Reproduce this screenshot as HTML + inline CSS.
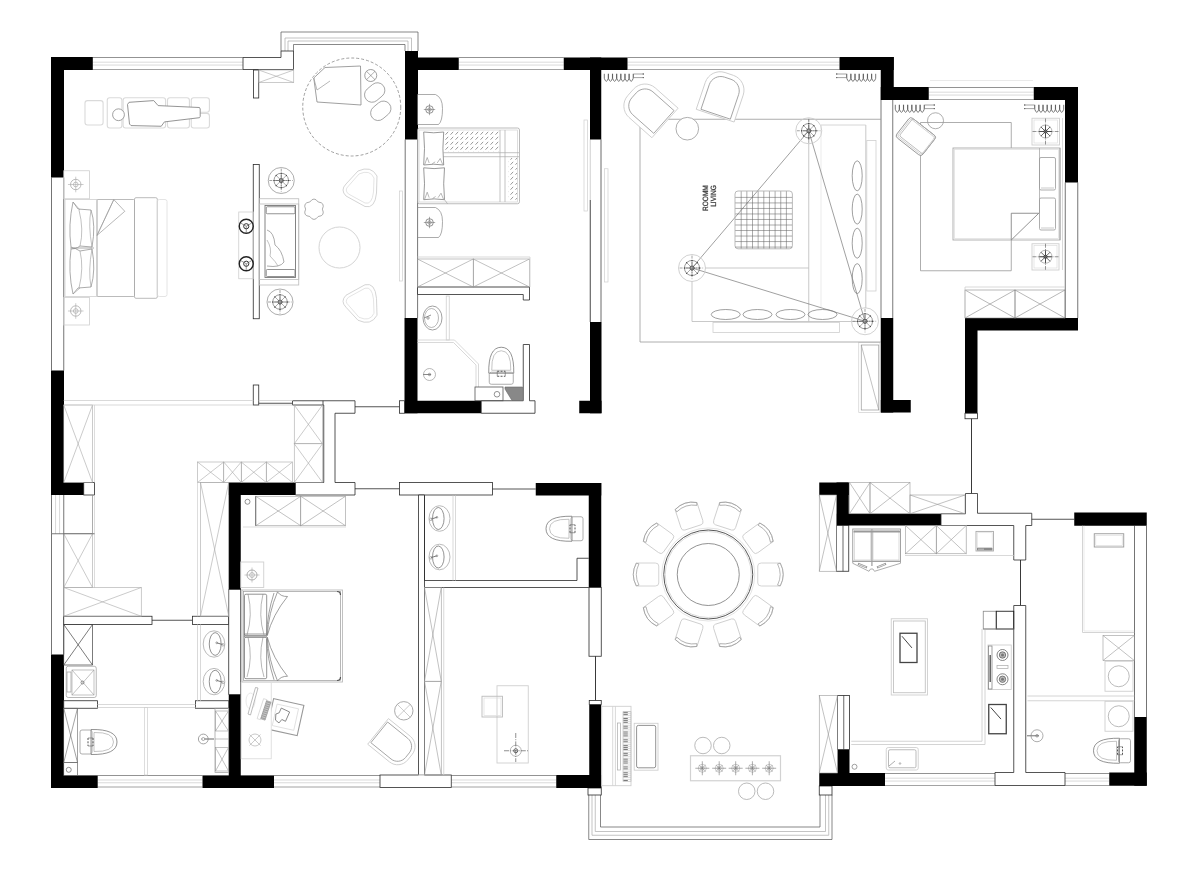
<!DOCTYPE html>
<html><head><meta charset="utf-8"><title>Floor plan</title>
<style>html,body{margin:0;padding:0;background:#fff;font-family:"Liberation Sans",sans-serif}svg{display:block}</style></head>
<body>
<svg width="1200" height="879" viewBox="0 0 1200 879">
<defs><filter id="nf" x="-10%" y="-10%" width="120%" height="120%"><feOffset dx="0" dy="0"/></filter><pattern id="hatch" width="5" height="5" patternUnits="userSpaceOnUse"><path d="M0.5 4.7 L3.2 1.8" stroke="#777" stroke-width="0.75"/></pattern></defs>
<rect width="1200" height="879" fill="#fff"/>
<line x1="92.5" y1="57.5" x2="243" y2="57.5" stroke="#777" stroke-width="0.8"/>
<line x1="92.5" y1="69.5" x2="243" y2="69.5" stroke="#8c8c8c" stroke-width="0.8"/>
<line x1="92.5" y1="62.18" x2="243" y2="62.18" stroke="#cacaca" stroke-width="0.7"/>
<line x1="92.5" y1="65.06" x2="243" y2="65.06" stroke="#cacaca" stroke-width="0.7"/>
<line x1="458.75" y1="57.5" x2="563.75" y2="57.5" stroke="#777" stroke-width="0.8"/>
<line x1="458.75" y1="69.5" x2="563.75" y2="69.5" stroke="#8c8c8c" stroke-width="0.8"/>
<line x1="458.75" y1="62.18" x2="563.75" y2="62.18" stroke="#cacaca" stroke-width="0.7"/>
<line x1="458.75" y1="65.06" x2="563.75" y2="65.06" stroke="#cacaca" stroke-width="0.7"/>
<line x1="627.5" y1="57.5" x2="839.5" y2="57.5" stroke="#777" stroke-width="0.8"/>
<line x1="627.5" y1="69.5" x2="839.5" y2="69.5" stroke="#8c8c8c" stroke-width="0.8"/>
<line x1="627.5" y1="62.18" x2="839.5" y2="62.18" stroke="#cacaca" stroke-width="0.7"/>
<line x1="627.5" y1="65.06" x2="839.5" y2="65.06" stroke="#cacaca" stroke-width="0.7"/>
<line x1="928.75" y1="87.5" x2="1033.75" y2="87.5" stroke="#777" stroke-width="0.8"/>
<line x1="928.75" y1="99.5" x2="1033.75" y2="99.5" stroke="#8c8c8c" stroke-width="0.8"/>
<line x1="928.75" y1="92.18" x2="1033.75" y2="92.18" stroke="#cacaca" stroke-width="0.7"/>
<line x1="928.75" y1="95.06" x2="1033.75" y2="95.06" stroke="#cacaca" stroke-width="0.7"/>
<line x1="930" y1="80.5" x2="1033" y2="80.5" stroke="#e4e4e4" stroke-width="0.8"/>
<line x1="51.5" y1="177.5" x2="51.5" y2="370.5" stroke="#505050" stroke-width="0.8"/>
<line x1="63.75" y1="177.5" x2="63.75" y2="370.5" stroke="#505050" stroke-width="0.8"/>
<line x1="51.5" y1="495" x2="51.5" y2="533.75" stroke="#505050" stroke-width="0.8"/>
<line x1="63.75" y1="495" x2="63.75" y2="533.75" stroke="#505050" stroke-width="0.8"/>
<line x1="55.54" y1="495" x2="55.54" y2="533.75" stroke="#c8c8c8" stroke-width="0.7"/>
<line x1="59.59" y1="495" x2="59.59" y2="533.75" stroke="#c8c8c8" stroke-width="0.7"/>
<line x1="51.5" y1="533.75" x2="51.5" y2="654.5" stroke="#505050" stroke-width="0.8"/>
<line x1="63.75" y1="533.75" x2="63.75" y2="654.5" stroke="#505050" stroke-width="0.8"/>
<line x1="97.5" y1="775.5" x2="202.5" y2="775.5" stroke="#777" stroke-width="0.8"/>
<line x1="97.5" y1="787" x2="202.5" y2="787" stroke="#8c8c8c" stroke-width="0.8"/>
<line x1="97.5" y1="779.99" x2="202.5" y2="779.99" stroke="#cacaca" stroke-width="0.7"/>
<line x1="97.5" y1="782.75" x2="202.5" y2="782.75" stroke="#cacaca" stroke-width="0.7"/>
<line x1="274" y1="775.5" x2="380" y2="775.5" stroke="#777" stroke-width="0.8"/>
<line x1="274" y1="787" x2="380" y2="787" stroke="#8c8c8c" stroke-width="0.8"/>
<line x1="274" y1="779.99" x2="380" y2="779.99" stroke="#cacaca" stroke-width="0.7"/>
<line x1="274" y1="782.75" x2="380" y2="782.75" stroke="#cacaca" stroke-width="0.7"/>
<line x1="451.25" y1="775.5" x2="556.25" y2="775.5" stroke="#777" stroke-width="0.8"/>
<line x1="451.25" y1="787" x2="556.25" y2="787" stroke="#8c8c8c" stroke-width="0.8"/>
<line x1="451.25" y1="779.99" x2="556.25" y2="779.99" stroke="#cacaca" stroke-width="0.7"/>
<line x1="451.25" y1="782.75" x2="556.25" y2="782.75" stroke="#cacaca" stroke-width="0.7"/>
<line x1="885" y1="773.5" x2="995" y2="773.5" stroke="#777" stroke-width="0.8"/>
<line x1="885" y1="785.5" x2="995" y2="785.5" stroke="#8c8c8c" stroke-width="0.8"/>
<line x1="885" y1="778.18" x2="995" y2="778.18" stroke="#cacaca" stroke-width="0.7"/>
<line x1="885" y1="781.06" x2="995" y2="781.06" stroke="#cacaca" stroke-width="0.7"/>
<line x1="1065" y1="773.5" x2="1109.25" y2="773.5" stroke="#777" stroke-width="0.8"/>
<line x1="1065" y1="785.5" x2="1109.25" y2="785.5" stroke="#8c8c8c" stroke-width="0.8"/>
<line x1="1065" y1="778.18" x2="1109.25" y2="778.18" stroke="#cacaca" stroke-width="0.7"/>
<line x1="1065" y1="781.06" x2="1109.25" y2="781.06" stroke="#cacaca" stroke-width="0.7"/>
<line x1="1065.25" y1="182.5" x2="1065.25" y2="318" stroke="#505050" stroke-width="0.8"/>
<line x1="1077.75" y1="182.5" x2="1077.75" y2="318" stroke="#505050" stroke-width="0.8"/>
<line x1="1134.5" y1="525.75" x2="1134.5" y2="717" stroke="#505050" stroke-width="0.8"/>
<line x1="1146.5" y1="525.75" x2="1146.5" y2="717" stroke="#505050" stroke-width="0.8"/>
<line x1="405.2" y1="139.5" x2="405.2" y2="318" stroke="#505050" stroke-width="0.8"/>
<line x1="417.6" y1="139.5" x2="417.6" y2="318" stroke="#505050" stroke-width="0.8"/>
<line x1="601" y1="139.5" x2="601" y2="322" stroke="#444" stroke-width="0.8"/>
<line x1="590.25" y1="139.5" x2="590.25" y2="200" stroke="#bbb" stroke-width="0.7"/>
<line x1="590.25" y1="200" x2="590.25" y2="322" stroke="#333" stroke-width="0.9"/>
<rect x="584" y="120" width="3.5" height="91" fill="none" stroke="#cfcfcf" stroke-width="0.7"/>
<rect x="604.5" y="168.75" width="3.5" height="113.25" fill="none" stroke="#cfcfcf" stroke-width="0.7"/>
<rect x="399.5" y="191" width="3" height="90" fill="none" stroke="#cfcfcf" stroke-width="0.7"/>
<line x1="881" y1="100" x2="881" y2="318" stroke="#555" stroke-width="0.8"/>
<line x1="892.75" y1="100" x2="892.75" y2="318" stroke="#555" stroke-width="0.8"/>
<path d="M281 51 L281 32 L418 32 L418 51" fill="none" stroke="#555" stroke-width="0.7"/>
<path d="M285 51 L285 38 L411.5 38 L411.5 51" fill="none" stroke="#aaa" stroke-width="0.7"/>
<path d="M288 51 L288 41 L408 41 L408 51" fill="none" stroke="#aaa" stroke-width="0.7"/>
<path d="M293.5 51 L293.5 44.5 L405 44.5 L405 51" fill="none" stroke="#555" stroke-width="0.7"/>
<path d="M588.75 795 L588.75 839.5 L832 839.5 L832 795" fill="none" stroke="#555" stroke-width="0.7"/>
<path d="M592 795 L592 835.25 L828.75 835.25 L828.75 795" fill="none" stroke="#aaa" stroke-width="0.7"/>
<path d="M595.25 795 L595.25 831.5 L825.5 831.5 L825.5 795" fill="none" stroke="#aaa" stroke-width="0.7"/>
<path d="M600.5 795 L600.5 827 L820 827 L820 795" fill="none" stroke="#555" stroke-width="0.7"/>
<rect x="588" y="788" width="13.25" height="7" fill="#fff" stroke="#2a2a2a" stroke-width="0.8"/>
<rect x="819.25" y="786" width="12.75" height="9" fill="#fff" stroke="#2a2a2a" stroke-width="0.8"/>
<rect x="51" y="57" width="41.8" height="13" fill="#000"/>
<rect x="51" y="57" width="13" height="120.5" fill="#000"/>
<rect x="51" y="370.5" width="13" height="124.5" fill="#000"/>
<rect x="51" y="482.5" width="33" height="12.5" fill="#000"/>
<rect x="51" y="654.5" width="13" height="133.5" fill="#000"/>
<rect x="51" y="775.4" width="46.7" height="12.6" fill="#000"/>
<rect x="202.5" y="775.4" width="71.5" height="12.6" fill="#000"/>
<rect x="228.75" y="694.5" width="12" height="93.5" fill="#000"/>
<rect x="228.75" y="482.5" width="12" height="107" fill="#000"/>
<rect x="228.75" y="482.5" width="66.75" height="12.5" fill="#000"/>
<rect x="405" y="51" width="13" height="88.5" fill="#000"/>
<rect x="405" y="57.5" width="53.75" height="12.5" fill="#000"/>
<rect x="563.75" y="57.5" width="63.75" height="12.5" fill="#000"/>
<rect x="590" y="57.5" width="11.25" height="82" fill="#000"/>
<rect x="404.5" y="318" width="13" height="95.25" fill="#000"/>
<rect x="404.5" y="400.75" width="76.75" height="12.5" fill="#000"/>
<rect x="590" y="322" width="11.5" height="91.25" fill="#000"/>
<rect x="579.25" y="400.75" width="22.25" height="12.5" fill="#000"/>
<rect x="535.75" y="483" width="65.5" height="12.5" fill="#000"/>
<rect x="588.75" y="483" width="12.5" height="104.5" fill="#000"/>
<rect x="589.25" y="704.5" width="12" height="83.5" fill="#000"/>
<rect x="556.25" y="775" width="45" height="13" fill="#000"/>
<rect x="839.5" y="57" width="54.25" height="13" fill="#000"/>
<rect x="880.75" y="57" width="13" height="43" fill="#000"/>
<rect x="880.75" y="87" width="48" height="13" fill="#000"/>
<rect x="1033.75" y="87" width="44.25" height="13" fill="#000"/>
<rect x="1065" y="87" width="13" height="95.5" fill="#000"/>
<rect x="965" y="318" width="113" height="12.5" fill="#000"/>
<rect x="965" y="318" width="12.5" height="95.25" fill="#000"/>
<rect x="880.75" y="318" width="12.5" height="94.5" fill="#000"/>
<rect x="880.75" y="400" width="30" height="12.5" fill="#000"/>
<rect x="819.25" y="482.5" width="29.5" height="12.5" fill="#000"/>
<rect x="836.5" y="482.5" width="12.25" height="42.5" fill="#000"/>
<rect x="836.5" y="513.75" width="104.5" height="11.75" fill="#000"/>
<rect x="1074.25" y="512.5" width="72.5" height="13.25" fill="#000"/>
<rect x="1134.25" y="717" width="12.5" height="68.75" fill="#000"/>
<rect x="1109.25" y="772.5" width="37.5" height="13.25" fill="#000"/>
<rect x="819.25" y="773" width="65.75" height="13" fill="#000"/>
<rect x="837.5" y="749.5" width="12" height="36.5" fill="#000"/>
<path d="M243 57.5 L281 57.5 L281 51 L293.5 51 L293.5 69.5 L243 69.5 Z" fill="#fff" stroke="#2a2a2a" stroke-width="0.8"/>
<rect x="253.5" y="70" width="5.25" height="28" fill="#fff" stroke="#2a2a2a" stroke-width="0.8"/>
<rect x="253.25" y="164.5" width="6" height="154.25" fill="#fff" stroke="#2a2a2a" stroke-width="0.8"/>
<rect x="253.25" y="385" width="5.5" height="20" fill="#fff" stroke="#2a2a2a" stroke-width="0.8"/>
<line x1="258.75" y1="403.25" x2="292.5" y2="403.25" stroke="#2a2a2a" stroke-width="0.8"/>
<rect x="83.75" y="482.5" width="10.75" height="12.5" fill="#fff" stroke="#2a2a2a" stroke-width="0.8"/>
<path d="M292.5 400.75 L355 400.75 L355 413.25 L335 413.25 L335 482.5 L355 482.5 L355 495 L295.5 495 L295.5 482.5 L323.75 482.5 L323.75 405 L292.5 405 Z" fill="#fff" stroke="#2a2a2a" stroke-width="0.8"/>
<line x1="355" y1="406.75" x2="399.5" y2="406.75" stroke="#2a2a2a" stroke-width="0.8"/>
<line x1="355" y1="488.75" x2="399.5" y2="488.75" stroke="#2a2a2a" stroke-width="0.8"/>
<rect x="399.5" y="400.75" width="5" height="12.5" fill="#fff" stroke="#2a2a2a" stroke-width="0.8"/>
<path d="M481.25 400.75 L523.25 400.75 L523.25 344.5 L529.5 344.5 L529.5 400.75 L535 400.75 L535 413.25 L481.25 413.25 Z" fill="#fff" stroke="#2a2a2a" stroke-width="0.8"/>
<path d="M417.5 287 L529.5 287 L529.5 300 L523.25 300 L523.25 294.5 L417.5 294.5 Z" fill="#fff" stroke="#2a2a2a" stroke-width="0.8"/>
<rect x="399.5" y="482.5" width="93" height="12.5" fill="#fff" stroke="#2a2a2a" stroke-width="0.8"/>
<line x1="492.5" y1="489" x2="535.75" y2="489" stroke="#2a2a2a" stroke-width="0.8"/>
<path d="M418.5 495 L424.5 495 L424.5 775 L418.5 775 Z" fill="#fff" stroke="#2a2a2a" stroke-width="0.8"/>
<rect x="380" y="775" width="71.25" height="12.5" fill="#fff" stroke="#2a2a2a" stroke-width="0.8"/>
<line x1="418.5" y1="775" x2="424.5" y2="775" stroke="#fff" stroke-width="1.2"/>
<path d="M424.5 495.5 L424.5 580.5 L577 580.5 L577 558.25 L588.75 558.25" fill="none" stroke="#2a2a2a" stroke-width="0.8"/>
<line x1="424.5" y1="587.5" x2="588.75" y2="587.5" stroke="#2a2a2a" stroke-width="0.8"/>
<rect x="589" y="587.5" width="12.25" height="68.75" fill="#fff" stroke="#2a2a2a" stroke-width="0.8"/>
<line x1="595.5" y1="656.25" x2="595.5" y2="700.5" stroke="#222" stroke-width="0.9"/>
<rect x="589.25" y="700.5" width="12" height="4" fill="#fff" stroke="#2a2a2a" stroke-width="0.8"/>
<rect x="63.75" y="616.25" width="88.25" height="8.25" fill="#fff" stroke="#2a2a2a" stroke-width="0.8"/>
<line x1="152" y1="620.25" x2="192.5" y2="620.25" stroke="#2a2a2a" stroke-width="0.8"/>
<rect x="192.5" y="616.25" width="36.25" height="8.25" fill="#fff" stroke="#2a2a2a" stroke-width="0.8"/>
<rect x="63.75" y="700.75" width="33.75" height="7.5" fill="#fff" stroke="#2a2a2a" stroke-width="0.8"/>
<rect x="195.5" y="700.75" width="33.25" height="7.5" fill="#fff" stroke="#2a2a2a" stroke-width="0.8"/>
<rect x="228.75" y="589.5" width="12" height="105" fill="#fff" stroke="#2a2a2a" stroke-width="0.8"/>
<rect x="965" y="413.25" width="12.5" height="5.5" fill="#fff" stroke="#2a2a2a" stroke-width="0.8"/>
<line x1="971.5" y1="418.75" x2="971.5" y2="493.5" stroke="#222" stroke-width="0.9"/>
<path d="M965.5 493.5 L977.5 493.5 L977.5 513.25 L1031.75 513.25 L1031.75 525.5 L1025.75 525.5 L1025.75 560 L1013.75 560 L1013.75 525.5 L941 525.5 L941 513.75 L965.5 513.75 Z" fill="#fff" stroke="#2a2a2a" stroke-width="0.8"/>
<line x1="1031.75" y1="519.25" x2="1074.25" y2="519.25" stroke="#2a2a2a" stroke-width="0.8"/>
<line x1="1020.5" y1="560" x2="1020.5" y2="605.5" stroke="#222" stroke-width="0.9"/>
<path d="M1013.75 605.5 L1025.75 605.5 L1025.75 772.5 L1065 772.5 L1065 785.5 L995 785.5 L995 772.5 L1013.75 772.5 Z" fill="#fff" stroke="#2a2a2a" stroke-width="0.8"/>
<rect x="836.5" y="525.5" width="12.25" height="45.75" fill="#fff" stroke="#2a2a2a" stroke-width="0.8"/>
<line x1="843" y1="525.5" x2="843" y2="571.25" stroke="#2a2a2a" stroke-width="0.7"/>
<rect x="837.5" y="695.5" width="12" height="54" fill="#fff" stroke="#2a2a2a" stroke-width="0.8"/>
<line x1="843.75" y1="695.5" x2="843.75" y2="749.5" stroke="#2a2a2a" stroke-width="0.7"/>
<rect x="258.75" y="70" width="35" height="12.5" fill="none" stroke="#a8a8a8" stroke-width="0.6"/>
<line x1="258.75" y1="70" x2="293.75" y2="82.5" stroke="#a8a8a8" stroke-width="0.6"/>
<line x1="258.75" y1="82.5" x2="293.75" y2="70" stroke="#a8a8a8" stroke-width="0.6"/>
<rect x="63.75" y="405" width="28.75" height="77.5" fill="none" stroke="#a8a8a8" stroke-width="0.6"/>
<line x1="63.75" y1="405" x2="92.5" y2="482.5" stroke="#a8a8a8" stroke-width="0.6"/>
<line x1="63.75" y1="482.5" x2="92.5" y2="405" stroke="#a8a8a8" stroke-width="0.6"/>
<line x1="94.5" y1="405" x2="94.5" y2="482.5" stroke="#cfcfcf" stroke-width="0.7"/>
<line x1="63.75" y1="400.5" x2="253.25" y2="400.5" stroke="#cfcfcf" stroke-width="0.8"/>
<line x1="63.75" y1="405" x2="253.25" y2="405" stroke="#cfcfcf" stroke-width="0.8"/>
<line x1="258.75" y1="400.5" x2="292.5" y2="400.5" stroke="#cfcfcf" stroke-width="0.8"/>
<line x1="258.75" y1="405" x2="292.5" y2="405" stroke="#cfcfcf" stroke-width="0.8"/>
<line x1="323" y1="400.75" x2="323" y2="405" stroke="#2a2a2a" stroke-width="0.8"/>
<rect x="294.25" y="405" width="28.25" height="38.75" fill="none" stroke="#a8a8a8" stroke-width="0.6"/>
<line x1="294.25" y1="405" x2="322.5" y2="443.75" stroke="#a8a8a8" stroke-width="0.6"/>
<line x1="294.25" y1="443.75" x2="322.5" y2="405" stroke="#a8a8a8" stroke-width="0.6"/>
<rect x="294.25" y="443.75" width="28.25" height="38.75" fill="none" stroke="#a8a8a8" stroke-width="0.6"/>
<line x1="294.25" y1="443.75" x2="322.5" y2="482.5" stroke="#a8a8a8" stroke-width="0.6"/>
<line x1="294.25" y1="482.5" x2="322.5" y2="443.75" stroke="#a8a8a8" stroke-width="0.6"/>
<rect x="197.5" y="462" width="26.25" height="20.5" fill="none" stroke="#a8a8a8" stroke-width="0.6"/>
<line x1="197.5" y1="462" x2="223.75" y2="482.5" stroke="#a8a8a8" stroke-width="0.6"/>
<line x1="197.5" y1="482.5" x2="223.75" y2="462" stroke="#a8a8a8" stroke-width="0.6"/>
<rect x="223.75" y="462" width="17.5" height="20.5" fill="none" stroke="#a8a8a8" stroke-width="0.6"/>
<line x1="223.75" y1="462" x2="241.25" y2="482.5" stroke="#a8a8a8" stroke-width="0.6"/>
<line x1="223.75" y1="482.5" x2="241.25" y2="462" stroke="#a8a8a8" stroke-width="0.6"/>
<rect x="241.25" y="462" width="25" height="20.5" fill="none" stroke="#a8a8a8" stroke-width="0.6"/>
<line x1="241.25" y1="462" x2="266.25" y2="482.5" stroke="#a8a8a8" stroke-width="0.6"/>
<line x1="241.25" y1="482.5" x2="266.25" y2="462" stroke="#a8a8a8" stroke-width="0.6"/>
<rect x="266.25" y="462" width="26.25" height="20.5" fill="none" stroke="#a8a8a8" stroke-width="0.6"/>
<line x1="266.25" y1="462" x2="292.5" y2="482.5" stroke="#a8a8a8" stroke-width="0.6"/>
<line x1="266.25" y1="482.5" x2="292.5" y2="462" stroke="#a8a8a8" stroke-width="0.6"/>
<rect x="200.5" y="482.5" width="28.25" height="133.75" fill="none" stroke="#a8a8a8" stroke-width="0.6"/>
<line x1="200.5" y1="482.5" x2="228.75" y2="616.25" stroke="#a8a8a8" stroke-width="0.6"/>
<line x1="200.5" y1="616.25" x2="228.75" y2="482.5" stroke="#a8a8a8" stroke-width="0.6"/>
<line x1="197.5" y1="482.5" x2="197.5" y2="616.25" stroke="#cfcfcf" stroke-width="0.7"/>
<rect x="255.75" y="496.25" width="45" height="29.5" fill="none" stroke="#999" stroke-width="0.6"/>
<line x1="255.75" y1="496.25" x2="300.75" y2="525.75" stroke="#999" stroke-width="0.6"/>
<line x1="255.75" y1="525.75" x2="300.75" y2="496.25" stroke="#999" stroke-width="0.6"/>
<rect x="300.75" y="496.25" width="44.75" height="29.5" fill="none" stroke="#999" stroke-width="0.6"/>
<line x1="300.75" y1="496.25" x2="345.5" y2="525.75" stroke="#999" stroke-width="0.6"/>
<line x1="300.75" y1="525.75" x2="345.5" y2="496.25" stroke="#999" stroke-width="0.6"/>
<line x1="255.75" y1="496.25" x2="255.75" y2="525.75" stroke="#555" stroke-width="0.8"/>
<line x1="243" y1="527" x2="346" y2="527" stroke="#cfcfcf" stroke-width="0.7"/>
<circle cx="247.5" cy="501.75" r="2.5" fill="none" stroke="#666" stroke-width="0.7"/>
<rect x="63.75" y="533.75" width="28.75" height="53.75" fill="none" stroke="#a8a8a8" stroke-width="0.6"/>
<line x1="63.75" y1="533.75" x2="92.5" y2="587.5" stroke="#a8a8a8" stroke-width="0.6"/>
<line x1="63.75" y1="587.5" x2="92.5" y2="533.75" stroke="#a8a8a8" stroke-width="0.6"/>
<line x1="94.5" y1="495" x2="94.5" y2="587.5" stroke="#cfcfcf" stroke-width="0.7"/>
<line x1="51.5" y1="533.75" x2="94.5" y2="533.75" stroke="#555" stroke-width="0.8"/>
<line x1="92.5" y1="495" x2="92.5" y2="533.75" stroke="#888" stroke-width="0.7"/>
<rect x="63.75" y="587.5" width="77.5" height="28.75" fill="none" stroke="#a8a8a8" stroke-width="0.6"/>
<line x1="63.75" y1="587.5" x2="141.25" y2="616.25" stroke="#a8a8a8" stroke-width="0.6"/>
<line x1="63.75" y1="616.25" x2="141.25" y2="587.5" stroke="#a8a8a8" stroke-width="0.6"/>
<rect x="63.75" y="624.5" width="28.75" height="40.5" fill="none" stroke="#444" stroke-width="0.7"/>
<line x1="63.75" y1="624.5" x2="92.5" y2="665" stroke="#444" stroke-width="0.7"/>
<line x1="63.75" y1="665" x2="92.5" y2="624.5" stroke="#444" stroke-width="0.7"/>
<rect x="66.25" y="666.25" width="30" height="31.25" fill="none" stroke="#999" stroke-width="0.7" rx="2"/>
<rect x="72" y="670" width="22" height="25" fill="none" stroke="#999" stroke-width="0.6"/>
<line x1="72" y1="670" x2="94" y2="695" stroke="#999" stroke-width="0.6"/>
<line x1="72" y1="695" x2="94" y2="670" stroke="#999" stroke-width="0.6"/>
<circle cx="82.5" cy="682.5" r="1.5" fill="none" stroke="#666" stroke-width="0.7"/>
<rect x="67" y="672" width="4" height="20" fill="none" stroke="#999" stroke-width="0.7"/>
<line x1="97.5" y1="704.5" x2="195.5" y2="704.5" stroke="#cfcfcf" stroke-width="0.8"/>
<line x1="97.5" y1="707.5" x2="195.5" y2="707.5" stroke="#cfcfcf" stroke-width="0.8"/>
<rect x="144.5" y="707.5" width="3" height="67.5" fill="none" stroke="#cfcfcf" stroke-width="0.7"/>
<rect x="63.75" y="708.25" width="13.75" height="54.25" fill="none" stroke="#666" stroke-width="0.6"/>
<line x1="63.75" y1="708.25" x2="77.5" y2="762.5" stroke="#666" stroke-width="0.6"/>
<line x1="63.75" y1="762.5" x2="77.5" y2="708.25" stroke="#666" stroke-width="0.6"/>
<rect x="63.75" y="762.5" width="13.75" height="12.9" fill="none" stroke="#666" stroke-width="0.7"/>
<circle cx="68.75" cy="769.8" r="2.5" fill="none" stroke="#666" stroke-width="0.7"/>
<rect x="215" y="708.25" width="13.75" height="64.25" fill="none" stroke="#999" stroke-width="0.7"/>
<rect x="215.5" y="711" width="13" height="20" fill="none" stroke="#999" stroke-width="0.6"/>
<line x1="215.5" y1="711" x2="228.5" y2="731" stroke="#999" stroke-width="0.6"/>
<line x1="215.5" y1="731" x2="228.5" y2="711" stroke="#999" stroke-width="0.6"/>
<rect x="215.5" y="747.5" width="13" height="23.5" fill="none" stroke="#999" stroke-width="0.6"/>
<line x1="215.5" y1="747.5" x2="228.5" y2="771" stroke="#999" stroke-width="0.6"/>
<line x1="215.5" y1="771" x2="228.5" y2="747.5" stroke="#999" stroke-width="0.6"/>
<line x1="215" y1="739" x2="228.75" y2="739" stroke="#999" stroke-width="0.6"/>
<line x1="197.5" y1="624.5" x2="197.5" y2="700.75" stroke="#cfcfcf" stroke-width="0.8"/>
<line x1="200.5" y1="624.5" x2="200.5" y2="700.75" stroke="#cfcfcf" stroke-width="0.8"/>
<rect x="417.5" y="259" width="55.75" height="28" fill="none" stroke="#999" stroke-width="0.6"/>
<line x1="417.5" y1="259" x2="473.25" y2="287" stroke="#999" stroke-width="0.6"/>
<line x1="417.5" y1="287" x2="473.25" y2="259" stroke="#999" stroke-width="0.6"/>
<rect x="473.25" y="259" width="56.25" height="28" fill="none" stroke="#999" stroke-width="0.6"/>
<line x1="473.25" y1="259" x2="529.5" y2="287" stroke="#999" stroke-width="0.6"/>
<line x1="473.25" y1="287" x2="529.5" y2="259" stroke="#999" stroke-width="0.6"/>
<line x1="417.5" y1="257" x2="530" y2="257" stroke="#cfcfcf" stroke-width="0.8"/>
<line x1="530" y1="257" x2="530" y2="287" stroke="#cfcfcf" stroke-width="0.8"/>
<rect x="424.5" y="587.5" width="16.75" height="93.75" fill="none" stroke="#999" stroke-width="0.6"/>
<line x1="424.5" y1="587.5" x2="441.25" y2="681.25" stroke="#999" stroke-width="0.6"/>
<line x1="424.5" y1="681.25" x2="441.25" y2="587.5" stroke="#999" stroke-width="0.6"/>
<rect x="424.5" y="681.25" width="16.75" height="93.75" fill="none" stroke="#999" stroke-width="0.6"/>
<line x1="424.5" y1="681.25" x2="441.25" y2="775" stroke="#999" stroke-width="0.6"/>
<line x1="424.5" y1="775" x2="441.25" y2="681.25" stroke="#999" stroke-width="0.6"/>
<line x1="443.75" y1="587.5" x2="443.75" y2="775" stroke="#cfcfcf" stroke-width="0.8"/>
<rect x="819.25" y="495" width="17.25" height="76.25" fill="none" stroke="#999" stroke-width="0.6"/>
<line x1="819.25" y1="495" x2="836.5" y2="571.25" stroke="#999" stroke-width="0.6"/>
<line x1="819.25" y1="571.25" x2="836.5" y2="495" stroke="#999" stroke-width="0.6"/>
<rect x="849.5" y="482.5" width="20.5" height="31.25" fill="none" stroke="#999" stroke-width="0.6"/>
<line x1="849.5" y1="482.5" x2="870" y2="513.75" stroke="#999" stroke-width="0.6"/>
<line x1="849.5" y1="513.75" x2="870" y2="482.5" stroke="#999" stroke-width="0.6"/>
<rect x="870" y="482.5" width="40" height="31.25" fill="none" stroke="#999" stroke-width="0.6"/>
<line x1="870" y1="482.5" x2="910" y2="513.75" stroke="#999" stroke-width="0.6"/>
<line x1="870" y1="513.75" x2="910" y2="482.5" stroke="#999" stroke-width="0.6"/>
<rect x="910" y="495" width="55" height="18.75" fill="none" stroke="#999" stroke-width="0.6"/>
<line x1="910" y1="495" x2="965" y2="513.75" stroke="#999" stroke-width="0.6"/>
<line x1="910" y1="513.75" x2="965" y2="495" stroke="#999" stroke-width="0.6"/>
<rect x="819.25" y="695.5" width="18.25" height="77.5" fill="none" stroke="#999" stroke-width="0.6"/>
<line x1="819.25" y1="695.5" x2="837.5" y2="773" stroke="#999" stroke-width="0.6"/>
<line x1="819.25" y1="773" x2="837.5" y2="695.5" stroke="#999" stroke-width="0.6"/>
<rect x="905.5" y="525.5" width="30.75" height="28.25" fill="none" stroke="#999" stroke-width="0.6"/>
<line x1="905.5" y1="525.5" x2="936.25" y2="553.75" stroke="#999" stroke-width="0.6"/>
<line x1="905.5" y1="553.75" x2="936.25" y2="525.5" stroke="#999" stroke-width="0.6"/>
<rect x="936.25" y="525.5" width="30" height="28.25" fill="none" stroke="#999" stroke-width="0.6"/>
<line x1="936.25" y1="525.5" x2="966.25" y2="553.75" stroke="#999" stroke-width="0.6"/>
<line x1="936.25" y1="553.75" x2="966.25" y2="525.5" stroke="#999" stroke-width="0.6"/>
<line x1="905" y1="555.5" x2="1013.75" y2="555.5" stroke="#cfcfcf" stroke-width="0.8"/>
<line x1="966.25" y1="525.5" x2="966.25" y2="553.75" stroke="#cfcfcf" stroke-width="0.7"/>
<rect x="965" y="290" width="50" height="28" fill="none" stroke="#888" stroke-width="0.6"/>
<line x1="965" y1="290" x2="1015" y2="318" stroke="#888" stroke-width="0.6"/>
<line x1="965" y1="318" x2="1015" y2="290" stroke="#888" stroke-width="0.6"/>
<rect x="1015" y="290" width="50" height="28" fill="none" stroke="#888" stroke-width="0.6"/>
<line x1="1015" y1="290" x2="1065" y2="318" stroke="#888" stroke-width="0.6"/>
<line x1="1015" y1="318" x2="1065" y2="290" stroke="#888" stroke-width="0.6"/>
<line x1="965" y1="287" x2="1065" y2="287" stroke="#cfcfcf" stroke-width="0.8"/>
<line x1="965" y1="287" x2="965" y2="318" stroke="#cfcfcf" stroke-width="0.8"/>
<rect x="1103" y="635.5" width="31.25" height="25" fill="none" stroke="#999" stroke-width="0.6"/>
<line x1="1103" y1="635.5" x2="1134.25" y2="660.5" stroke="#999" stroke-width="0.6"/>
<line x1="1103" y1="660.5" x2="1134.25" y2="635.5" stroke="#999" stroke-width="0.6"/>
<rect x="858.75" y="342.5" width="21.25" height="70" fill="none" stroke="#cfcfcf" stroke-width="0.7"/>
<rect x="861.25" y="345" width="17.5" height="65" fill="none" stroke="#999" stroke-width="0.7"/>
<line x1="861.25" y1="345" x2="878.75" y2="410" stroke="#999" stroke-width="0.6"/>
<rect x="85" y="100.6" width="18.1" height="24.4" fill="none" stroke="#dadada" stroke-width="1.1" rx="2.5"/>
<rect x="107.25" y="97.8" width="14.65" height="30.2" fill="none" stroke="#dadada" stroke-width="1.1" rx="2.5"/>
<rect x="123.1" y="97.8" width="42.5" height="30.2" fill="none" stroke="#dadada" stroke-width="1.1" rx="2.5"/>
<rect x="167.5" y="97.8" width="21.9" height="30.2" fill="none" stroke="#dadada" stroke-width="1.1" rx="2.5"/>
<rect x="191.25" y="97.8" width="18.15" height="14.4" fill="none" stroke="#dadada" stroke-width="1.1" rx="2.5"/>
<rect x="191.25" y="113.4" width="18.15" height="14.6" fill="none" stroke="#dadada" stroke-width="1.1" rx="2.5"/>
<circle cx="118.5" cy="114.75" r="5.9" fill="#fff" stroke="#888" stroke-width="0.8"/>
<path d="M127.5 104.5 L129 102.3 L153.75 100.6 L158.1 105.6 L199.5 107.5 L200.2 109 L200.2 116.5 L199.5 117.7 L164.4 121.9 L161.25 126.25 L131 125.6 L129.5 124 Z" fill="#fff" stroke="#888" stroke-width="0.9" stroke-linejoin="round"/>
<rect x="63.75" y="170.75" width="25.75" height="28" fill="none" stroke="#cfcfcf" stroke-width="0.8"/>
<circle cx="75.75" cy="184.5" r="5.2" fill="none" stroke="#aaa" stroke-width="0.8"/>
<circle cx="75.75" cy="184.5" r="2.34" fill="none" stroke="#aaa" stroke-width="0.7"/>
<line x1="67.95" y1="184.5" x2="83.55" y2="184.5" stroke="#aaa" stroke-width="0.6"/>
<line x1="75.75" y1="176.7" x2="75.75" y2="192.3" stroke="#aaa" stroke-width="0.6"/>
<rect x="63.75" y="297.5" width="25.75" height="27.5" fill="none" stroke="#cfcfcf" stroke-width="0.8"/>
<circle cx="75.75" cy="311" r="5.2" fill="none" stroke="#aaa" stroke-width="0.8"/>
<circle cx="75.75" cy="311" r="2.34" fill="none" stroke="#aaa" stroke-width="0.7"/>
<line x1="67.95" y1="311" x2="83.55" y2="311" stroke="#aaa" stroke-width="0.6"/>
<line x1="75.75" y1="303.2" x2="75.75" y2="318.8" stroke="#aaa" stroke-width="0.6"/>
<rect x="65" y="199.5" width="32" height="97" fill="none" stroke="#cfcfcf" stroke-width="0.8"/>
<rect x="97" y="199.5" width="37.5" height="97" fill="none" stroke="#aaa" stroke-width="0.8" rx="1"/>
<rect x="134.5" y="197.7" width="22.8" height="100.6" fill="none" stroke="#aaa" stroke-width="0.8" rx="1.5"/>
<rect x="157.3" y="199.5" width="9.7" height="97" fill="none" stroke="#ddd" stroke-width="0.8" rx="2"/>
<path d="M97 235.4 L113.8 199.6 L124.8 211.3 Z" fill="none" stroke="#999" stroke-width="0.7"/>
<line x1="113.8" y1="199.6" x2="97" y2="235.4" stroke="#999" stroke-width="0.6"/>
<path d="M73 202 Q68 225 71 247 Q75 250 80 246 L92 247 Q96 225 91 210 L78 209 Z" fill="none" stroke="#888" stroke-width="0.7"/>
<path d="M71 249 Q68 272 73 294 L78 288 L91 287 Q96 270 92 249 L80 251 Q75 247 71 249 Z" fill="none" stroke="#888" stroke-width="0.7"/>
<path d="M79 210 Q84 230 80 246 M79 288 Q84 268 80 251 M73 202 L80 210 M73 294 L80 288 M92 247 Q88 225 91 210 M92 249 Q88 270 91 287" fill="none" stroke="#999" stroke-width="0.6"/>
<line x1="70" y1="248" x2="94" y2="248" stroke="#888" stroke-width="0.7"/>
<rect x="238.75" y="212" width="14.5" height="66.75" fill="none" stroke="#cfcfcf" stroke-width="0.8"/>
<circle cx="246.25" cy="226.25" r="7" fill="none" stroke="#222" stroke-width="1.4"/>
<circle cx="246.25" cy="226.25" r="2.6" fill="none" stroke="#333" stroke-width="1"/>
<line x1="246.25" y1="226.25" x2="246.25" y2="232.25" stroke="#555" stroke-width="0.6"/>
<line x1="246.25" y1="226.25" x2="241.05" y2="223.25" stroke="#555" stroke-width="0.6"/>
<line x1="246.25" y1="226.25" x2="251.45" y2="223.25" stroke="#555" stroke-width="0.6"/>
<circle cx="246.25" cy="263.75" r="7" fill="none" stroke="#222" stroke-width="1.4"/>
<circle cx="246.25" cy="263.75" r="2.6" fill="none" stroke="#333" stroke-width="1"/>
<line x1="246.25" y1="263.75" x2="246.25" y2="269.75" stroke="#555" stroke-width="0.6"/>
<line x1="246.25" y1="263.75" x2="241.05" y2="260.75" stroke="#555" stroke-width="0.6"/>
<line x1="246.25" y1="263.75" x2="251.45" y2="260.75" stroke="#555" stroke-width="0.6"/>
<rect x="259.25" y="198.75" width="39.5" height="86.25" fill="none" stroke="#bbb" stroke-width="0.8"/>
<rect x="259.25" y="204" width="39.5" height="75.5" fill="none" stroke="#bbb" stroke-width="0.8"/>
<rect x="265" y="205.5" width="30.5" height="72" fill="none" stroke="#777" stroke-width="0.9"/>
<rect x="266.25" y="206.75" width="28.75" height="7" fill="none" stroke="#777" stroke-width="0.8" rx="1"/>
<rect x="266.25" y="269.5" width="28.75" height="7" fill="none" stroke="#777" stroke-width="0.8" rx="1"/>
<path d="M267 230 Q274 232 275 245 Q282 250 284 262 Q280 268 267 266" fill="none" stroke="#888" stroke-width="0.7"/>
<path d="M267 240 Q272 248 270 256 Q276 262 278 266" fill="none" stroke="#999" stroke-width="0.6"/>
<circle cx="281.25" cy="180.5" r="13" fill="none" stroke="#8a8a8a" stroke-width="0.7"/>
<circle cx="281.25" cy="180.5" r="7.28" fill="none" stroke="#555" stroke-width="0.6"/>
<circle cx="281.25" cy="180.5" r="2.08" fill="#aaa" stroke="#333" stroke-width="0.7"/>
<line x1="283.33" y1="180.5" x2="288.53" y2="180.5" stroke="#444" stroke-width="0.45"/>
<circle cx="288.53" cy="180.5" r="0.55" fill="#333" stroke="none" stroke-width="0"/>
<line x1="282.72" y1="181.97" x2="286.4" y2="185.65" stroke="#444" stroke-width="0.45"/>
<circle cx="286.4" cy="185.65" r="0.55" fill="#333" stroke="none" stroke-width="0"/>
<line x1="281.25" y1="182.58" x2="281.25" y2="187.78" stroke="#444" stroke-width="0.45"/>
<circle cx="281.25" cy="187.78" r="0.55" fill="#333" stroke="none" stroke-width="0"/>
<line x1="279.78" y1="181.97" x2="276.1" y2="185.65" stroke="#444" stroke-width="0.45"/>
<circle cx="276.1" cy="185.65" r="0.55" fill="#333" stroke="none" stroke-width="0"/>
<line x1="279.17" y1="180.5" x2="273.97" y2="180.5" stroke="#444" stroke-width="0.45"/>
<circle cx="273.97" cy="180.5" r="0.55" fill="#333" stroke="none" stroke-width="0"/>
<line x1="279.78" y1="179.03" x2="276.1" y2="175.35" stroke="#444" stroke-width="0.45"/>
<circle cx="276.1" cy="175.35" r="0.55" fill="#333" stroke="none" stroke-width="0"/>
<line x1="281.25" y1="178.42" x2="281.25" y2="173.22" stroke="#444" stroke-width="0.45"/>
<circle cx="281.25" cy="173.22" r="0.55" fill="#333" stroke="none" stroke-width="0"/>
<line x1="282.72" y1="179.03" x2="286.4" y2="175.35" stroke="#444" stroke-width="0.45"/>
<circle cx="286.4" cy="175.35" r="0.55" fill="#333" stroke="none" stroke-width="0"/>
<line x1="269.29" y1="180.5" x2="293.21" y2="180.5" stroke="#444" stroke-width="0.5" stroke-dasharray="3 1.2 0.8 1.2"/>
<line x1="281.25" y1="168.54" x2="281.25" y2="192.46" stroke="#444" stroke-width="0.5" stroke-dasharray="3 1.2 0.8 1.2"/>
<circle cx="280" cy="302" r="13" fill="none" stroke="#8a8a8a" stroke-width="0.7"/>
<circle cx="280" cy="302" r="7.28" fill="none" stroke="#555" stroke-width="0.6"/>
<circle cx="280" cy="302" r="2.08" fill="#aaa" stroke="#333" stroke-width="0.7"/>
<line x1="282.08" y1="302" x2="287.28" y2="302" stroke="#444" stroke-width="0.45"/>
<circle cx="287.28" cy="302" r="0.55" fill="#333" stroke="none" stroke-width="0"/>
<line x1="281.47" y1="303.47" x2="285.15" y2="307.15" stroke="#444" stroke-width="0.45"/>
<circle cx="285.15" cy="307.15" r="0.55" fill="#333" stroke="none" stroke-width="0"/>
<line x1="280" y1="304.08" x2="280" y2="309.28" stroke="#444" stroke-width="0.45"/>
<circle cx="280" cy="309.28" r="0.55" fill="#333" stroke="none" stroke-width="0"/>
<line x1="278.53" y1="303.47" x2="274.85" y2="307.15" stroke="#444" stroke-width="0.45"/>
<circle cx="274.85" cy="307.15" r="0.55" fill="#333" stroke="none" stroke-width="0"/>
<line x1="277.92" y1="302" x2="272.72" y2="302" stroke="#444" stroke-width="0.45"/>
<circle cx="272.72" cy="302" r="0.55" fill="#333" stroke="none" stroke-width="0"/>
<line x1="278.53" y1="300.53" x2="274.85" y2="296.85" stroke="#444" stroke-width="0.45"/>
<circle cx="274.85" cy="296.85" r="0.55" fill="#333" stroke="none" stroke-width="0"/>
<line x1="280" y1="299.92" x2="280" y2="294.72" stroke="#444" stroke-width="0.45"/>
<circle cx="280" cy="294.72" r="0.55" fill="#333" stroke="none" stroke-width="0"/>
<line x1="281.47" y1="300.53" x2="285.15" y2="296.85" stroke="#444" stroke-width="0.45"/>
<circle cx="285.15" cy="296.85" r="0.55" fill="#333" stroke="none" stroke-width="0"/>
<line x1="268.04" y1="302" x2="291.96" y2="302" stroke="#444" stroke-width="0.5" stroke-dasharray="3 1.2 0.8 1.2"/>
<line x1="280" y1="290.04" x2="280" y2="313.96" stroke="#444" stroke-width="0.5" stroke-dasharray="3 1.2 0.8 1.2"/>
<path d="M322.4 209.2 Q325.4 215.8 318.2 216.5 Q314.0 222.4 309.8 216.5 Q302.6 215.8 305.6 209.2 Q302.6 202.7 309.8 202.0 Q314.0 196.1 318.2 202.0 Q325.4 202.7 322.4 209.2 Z" fill="none" stroke="#888" stroke-width="0.7"/>
<circle cx="339.5" cy="247.5" r="20.5" fill="none" stroke="#cfcfcf" stroke-width="0.9"/>
<path d="M358 171 Q371 165 377 176 L376.5 193 Q375 209 365 206.5 L346 196 Q340 190 346 184 Z" fill="none" stroke="#cfcfcf" stroke-width="0.9"/>
<path d="M359 174 Q370 169 374 178 L373.5 192 Q372 205 365 203 L348.5 194 Q344 190 348.5 186 Z" fill="none" stroke="#ddd" stroke-width="0.8"/>
<path d="M358 171 Q371 165 377 176 L376.5 193 Q375 209 365 206.5 L346 196 Q340 190 346 184 Z" fill="none" stroke="#cfcfcf" stroke-width="0.9" transform="translate(0 491.25) scale(1 -1)"/>
<path d="M359 174 Q370 169 374 178 L373.5 192 Q372 205 365 203 L348.5 194 Q344 190 348.5 186 Z" fill="none" stroke="#ddd" stroke-width="0.8" transform="translate(0 491.25) scale(1 -1)"/>
<circle cx="351.75" cy="107" r="49" fill="none" stroke="#777" stroke-width="0.7" stroke-dasharray="3 2"/>
<path d="M313.75 78 L325 67.5 L360.5 66 L361 105 L317 102 Z" fill="none" stroke="#888" stroke-width="0.8"/>
<path d="M313.75 78 L317 90 L330 81" fill="none" stroke="#999" stroke-width="0.7"/>
<circle cx="370.75" cy="75.5" r="6" fill="none" stroke="#777" stroke-width="0.7"/>
<line x1="366.5" y1="71.3" x2="375" y2="79.7" stroke="#777" stroke-width="0.6"/>
<line x1="366.5" y1="79.7" x2="375" y2="71.3" stroke="#777" stroke-width="0.6"/>
<rect x="363.7" y="85" width="22" height="15" fill="none" stroke="#888" stroke-width="0.7" rx="7.5" transform="rotate(-40 374.7 92.5)"/>
<rect x="369.8" y="103.3" width="22" height="15" fill="none" stroke="#888" stroke-width="0.7" rx="7.5" transform="rotate(-40 380.8 110.8)"/>
<path d="M417.5 94.5 h18 q7 3 7 14 q0 13 -4 16 h-21 z" fill="none" stroke="#888" stroke-width="0.7"/>
<circle cx="429.5" cy="109.5" r="3.8" fill="none" stroke="#777" stroke-width="0.8"/>
<circle cx="429.5" cy="109.5" r="1.71" fill="none" stroke="#777" stroke-width="0.7"/>
<line x1="423.8" y1="109.5" x2="435.2" y2="109.5" stroke="#777" stroke-width="0.6"/>
<line x1="429.5" y1="103.8" x2="429.5" y2="115.2" stroke="#777" stroke-width="0.6"/>
<path d="M417.5 207.5 h18 q7 3 7 14 q0 13 -4 16 h-21 z" fill="none" stroke="#888" stroke-width="0.7"/>
<circle cx="429.5" cy="222.5" r="3.8" fill="none" stroke="#777" stroke-width="0.8"/>
<circle cx="429.5" cy="222.5" r="1.71" fill="none" stroke="#777" stroke-width="0.7"/>
<line x1="423.8" y1="222.5" x2="435.2" y2="222.5" stroke="#777" stroke-width="0.6"/>
<line x1="429.5" y1="216.8" x2="429.5" y2="228.2" stroke="#777" stroke-width="0.6"/>
<rect x="417.5" y="128" width="102" height="75.75" fill="none" stroke="#aaa" stroke-width="0.8" rx="2"/>
<rect x="419" y="130" width="98.5" height="72" fill="none" stroke="#cfcfcf" stroke-width="0.7"/>
<line x1="443.5" y1="152.7" x2="519" y2="152.7" stroke="#aaa" stroke-width="0.7"/>
<line x1="443.5" y1="156.7" x2="519" y2="156.7" stroke="#aaa" stroke-width="0.7"/>
<line x1="500" y1="130" x2="500" y2="202" stroke="#aaa" stroke-width="0.7"/>
<line x1="505" y1="130" x2="505" y2="202" stroke="#aaa" stroke-width="0.7"/>
<rect x="445" y="131" width="55" height="21" fill="url(#hatch)" stroke="none" stroke-width="0"/>
<rect x="508" y="158" width="9" height="42" fill="url(#hatch)" stroke="none" stroke-width="0"/>
<path d="M423.7 132 Q433.7 133.6 443.7 132 Q442.1 148.5 443.7 165 Q433.7 163.4 423.7 165 Q425.3 148.5 423.7 132 Z" fill="none" stroke="#777" stroke-width="0.75"/>
<path d="M424.7 164.5 l2.5 -7 l2 5.5 M442.7 164.5 l-2.5 -6 l-3 4.5 M432.2 163.8 l3 -2" fill="none" stroke="#888" stroke-width="0.6"/>
<path d="M423.7 167.8 Q434.1 169.4 444.5 167.8 Q442.9 183.75 444.5 199.7 Q434.1 198.1 423.7 199.7 Q425.3 183.75 423.7 167.8 Z" fill="none" stroke="#777" stroke-width="0.75"/>
<path d="M424.7 199.2 l2.5 -7 l2 5.5 M443.5 199.2 l-2.5 -6 l-3 4.5 M432.6 198.5 l3 -2" fill="none" stroke="#888" stroke-width="0.6"/>
<path d="M444.5 199.7 l3 4" fill="none" stroke="#999" stroke-width="0.6"/>
<ellipse cx="432.5" cy="318" rx="9.5" ry="12" fill="none" stroke="#888" stroke-width="0.8"/>
<ellipse cx="431.5" cy="318" rx="7" ry="9.5" fill="none" stroke="#999" stroke-width="0.7"/>
<circle cx="428" cy="318" r="1.2" fill="none" stroke="#777" stroke-width="0.7"/>
<line x1="424" y1="318" x2="431" y2="315" stroke="#777" stroke-width="0.8"/>
<rect x="446.25" y="296" width="3" height="44" fill="none" stroke="#cfcfcf" stroke-width="0.8"/>
<path d="M417.5 340 L454.5 340 L478.5 364 L478.5 387" fill="none" stroke="#cfcfcf" stroke-width="0.8"/>
<path d="M417.5 342.5 L453.5 342.5 L476 365 L476 387" fill="none" stroke="#cfcfcf" stroke-width="0.8"/>
<circle cx="429.5" cy="374.5" r="6" fill="none" stroke="#999" stroke-width="0.7"/>
<line x1="423" y1="374.5" x2="431" y2="374.5" stroke="#888" stroke-width="1"/>
<circle cx="429.5" cy="374.5" r="1.2" fill="none" stroke="#777" stroke-width="0.7"/>
<rect x="475" y="387" width="28" height="13.75" fill="none" stroke="#555" stroke-width="0.8"/>
<circle cx="497" cy="394.25" r="2.8" fill="none" stroke="#666" stroke-width="0.7"/>
<path d="M505 387 L522.5 387 L522.5 400.5 L512 400.5 L505 389 Z" fill="#888" stroke="#666" stroke-width="0.6"/>
<g transform="translate(501.25 366.25) rotate(0) scale(1)">
<path d="M-12.5 7 Q-13 -19 0 -19 Q13 -19 12.5 7 Z" fill="none" stroke="#777" stroke-width="0.8"/>
<path d="M-9.5 4 Q-10 -15.5 0 -15.5 Q10 -15.5 9.5 4 Z" fill="none" stroke="#aaa" stroke-width="0.7"/>
<rect x="-12" y="6" width="24" height="12" fill="none" stroke="#999" stroke-width="0.8" rx="2"/>
<line x1="-4" y1="5" x2="4" y2="5" stroke="#444" stroke-width="0.9" stroke-dasharray="2 1.3"/>
<line x1="-4" y1="10" x2="4" y2="10" stroke="#444" stroke-width="0.9" stroke-dasharray="2 1.3"/>
<line x1="-4" y1="5" x2="-4" y2="10" stroke="#666" stroke-width="0.6"/>
<line x1="4" y1="5" x2="4" y2="10" stroke="#666" stroke-width="0.6"/>
</g>
<g transform="translate(604 73.3)">
<path d="M0.3 0.5 v4.5 q2 6 4 0 v-4.5" fill="none" stroke="#555" stroke-width="0.8"/>
<path d="M4.45 0.5 v4.5 q2 6 4 0 v-4.5" fill="none" stroke="#555" stroke-width="0.8"/>
<path d="M8.6 0.5 v4.5 q2 6 4 0 v-4.5" fill="none" stroke="#555" stroke-width="0.8"/>
<path d="M12.75 0.5 v4.5 q2 6 4 0 v-4.5" fill="none" stroke="#555" stroke-width="0.8"/>
<path d="M16.9 0.5 v4.5 q2 6 4 0 v-4.5" fill="none" stroke="#555" stroke-width="0.8"/>
<path d="M21.05 0.5 v4.5 q2 6 4 0 v-4.5" fill="none" stroke="#555" stroke-width="0.8"/>
<path d="M25.2 0.5 v4.5 q2 6 4 0 v-4.5" fill="none" stroke="#555" stroke-width="0.8"/>
<line x1="29.5" y1="0.7" x2="39.5" y2="0.7" stroke="#666" stroke-width="0.6"/>
<line x1="29.5" y1="4.3" x2="39.5" y2="4.3" stroke="#666" stroke-width="0.6"/>
<line x1="29.5" y1="0.7" x2="29.5" y2="4.3" stroke="#666" stroke-width="0.6"/>
<circle cx="39.3" cy="0.7" r="0.7" fill="#555" stroke="none" stroke-width="0"/>
<circle cx="39.3" cy="4.3" r="0.7" fill="#555" stroke="none" stroke-width="0"/>
</g>
<g transform="translate(876 73.3) scale(-1 1)">
<path d="M0.3 0.5 v4.5 q2 6 4 0 v-4.5" fill="none" stroke="#555" stroke-width="0.8"/>
<path d="M4.45 0.5 v4.5 q2 6 4 0 v-4.5" fill="none" stroke="#555" stroke-width="0.8"/>
<path d="M8.6 0.5 v4.5 q2 6 4 0 v-4.5" fill="none" stroke="#555" stroke-width="0.8"/>
<path d="M12.75 0.5 v4.5 q2 6 4 0 v-4.5" fill="none" stroke="#555" stroke-width="0.8"/>
<path d="M16.9 0.5 v4.5 q2 6 4 0 v-4.5" fill="none" stroke="#555" stroke-width="0.8"/>
<path d="M21.05 0.5 v4.5 q2 6 4 0 v-4.5" fill="none" stroke="#555" stroke-width="0.8"/>
<path d="M25.2 0.5 v4.5 q2 6 4 0 v-4.5" fill="none" stroke="#555" stroke-width="0.8"/>
<line x1="29.5" y1="0.7" x2="39.5" y2="0.7" stroke="#666" stroke-width="0.6"/>
<line x1="29.5" y1="4.3" x2="39.5" y2="4.3" stroke="#666" stroke-width="0.6"/>
<line x1="29.5" y1="0.7" x2="29.5" y2="4.3" stroke="#666" stroke-width="0.6"/>
<circle cx="39.3" cy="0.7" r="0.7" fill="#555" stroke="none" stroke-width="0"/>
<circle cx="39.3" cy="4.3" r="0.7" fill="#555" stroke="none" stroke-width="0"/>
</g>
<g transform="translate(895 104.3)">
<path d="M0.3 0.5 v4.5 q2 6 4 0 v-4.5" fill="none" stroke="#555" stroke-width="0.8"/>
<path d="M4.45 0.5 v4.5 q2 6 4 0 v-4.5" fill="none" stroke="#555" stroke-width="0.8"/>
<path d="M8.6 0.5 v4.5 q2 6 4 0 v-4.5" fill="none" stroke="#555" stroke-width="0.8"/>
<path d="M12.75 0.5 v4.5 q2 6 4 0 v-4.5" fill="none" stroke="#555" stroke-width="0.8"/>
<path d="M16.9 0.5 v4.5 q2 6 4 0 v-4.5" fill="none" stroke="#555" stroke-width="0.8"/>
<path d="M21.05 0.5 v4.5 q2 6 4 0 v-4.5" fill="none" stroke="#555" stroke-width="0.8"/>
<path d="M25.2 0.5 v4.5 q2 6 4 0 v-4.5" fill="none" stroke="#555" stroke-width="0.8"/>
<line x1="29.5" y1="0.7" x2="39.5" y2="0.7" stroke="#666" stroke-width="0.6"/>
<line x1="29.5" y1="4.3" x2="39.5" y2="4.3" stroke="#666" stroke-width="0.6"/>
<line x1="29.5" y1="0.7" x2="29.5" y2="4.3" stroke="#666" stroke-width="0.6"/>
<circle cx="39.3" cy="0.7" r="0.7" fill="#555" stroke="none" stroke-width="0"/>
<circle cx="39.3" cy="4.3" r="0.7" fill="#555" stroke="none" stroke-width="0"/>
</g>
<g transform="translate(1064 104.3) scale(-1 1)">
<path d="M0.3 0.5 v4.5 q2 6 4 0 v-4.5" fill="none" stroke="#555" stroke-width="0.8"/>
<path d="M4.45 0.5 v4.5 q2 6 4 0 v-4.5" fill="none" stroke="#555" stroke-width="0.8"/>
<path d="M8.6 0.5 v4.5 q2 6 4 0 v-4.5" fill="none" stroke="#555" stroke-width="0.8"/>
<path d="M12.75 0.5 v4.5 q2 6 4 0 v-4.5" fill="none" stroke="#555" stroke-width="0.8"/>
<path d="M16.9 0.5 v4.5 q2 6 4 0 v-4.5" fill="none" stroke="#555" stroke-width="0.8"/>
<path d="M21.05 0.5 v4.5 q2 6 4 0 v-4.5" fill="none" stroke="#555" stroke-width="0.8"/>
<path d="M25.2 0.5 v4.5 q2 6 4 0 v-4.5" fill="none" stroke="#555" stroke-width="0.8"/>
<line x1="29.5" y1="0.7" x2="39.5" y2="0.7" stroke="#666" stroke-width="0.6"/>
<line x1="29.5" y1="4.3" x2="39.5" y2="4.3" stroke="#666" stroke-width="0.6"/>
<line x1="29.5" y1="0.7" x2="29.5" y2="4.3" stroke="#666" stroke-width="0.6"/>
<circle cx="39.3" cy="0.7" r="0.7" fill="#555" stroke="none" stroke-width="0"/>
<circle cx="39.3" cy="4.3" r="0.7" fill="#555" stroke="none" stroke-width="0"/>
</g>
<path d="M881 119.25 L640 119.25 L640 342 L881 342" fill="none" stroke="#999" stroke-width="0.8"/>
<line x1="705" y1="268" x2="808.75" y2="268" stroke="#bbb" stroke-width="0.8"/>
<line x1="808.75" y1="119.25" x2="808.75" y2="321.5" stroke="#bbb" stroke-width="0.8"/>
<line x1="692" y1="281" x2="692" y2="321.5" stroke="#bbb" stroke-width="0.8"/>
<line x1="692" y1="321.5" x2="865" y2="321.5" stroke="#bbb" stroke-width="0.8"/>
<rect x="713" y="322.5" width="126.5" height="10" fill="none" stroke="#cfcfcf" stroke-width="0.8"/>
<line x1="821" y1="125" x2="821" y2="307" stroke="#e6e6e6" stroke-width="0.8"/>
<line x1="865.8" y1="125" x2="865.8" y2="308" stroke="#bbb" stroke-width="0.8"/>
<line x1="821" y1="125" x2="865.8" y2="125" stroke="#ccc" stroke-width="0.8"/>
<rect x="866.8" y="140.4" width="9.2" height="150.6" fill="none" stroke="#cfcfcf" stroke-width="0.8"/>
<ellipse cx="725.75" cy="314.5" rx="14.5" ry="5" fill="none" stroke="#777" stroke-width="0.7"/>
<ellipse cx="757.5" cy="314.5" rx="14.5" ry="5" fill="none" stroke="#777" stroke-width="0.7"/>
<ellipse cx="790.5" cy="314.5" rx="14.5" ry="5" fill="none" stroke="#777" stroke-width="0.7"/>
<ellipse cx="822.5" cy="314.5" rx="14.5" ry="5" fill="none" stroke="#777" stroke-width="0.7"/>
<ellipse cx="857.2" cy="175.8" rx="5" ry="15" fill="none" stroke="#777" stroke-width="0.7"/>
<ellipse cx="857.2" cy="209.1" rx="5" ry="15" fill="none" stroke="#777" stroke-width="0.7"/>
<ellipse cx="857.2" cy="243.2" rx="5" ry="15" fill="none" stroke="#777" stroke-width="0.7"/>
<ellipse cx="857.2" cy="278.6" rx="5" ry="15" fill="none" stroke="#777" stroke-width="0.7"/>
<line x1="808.75" y1="130.75" x2="692" y2="268" stroke="#777" stroke-width="0.7"/>
<line x1="692" y1="268" x2="865" y2="321.25" stroke="#777" stroke-width="0.7"/>
<line x1="808.75" y1="130.75" x2="865" y2="321.25" stroke="#777" stroke-width="0.7"/>
<circle cx="808.75" cy="130.75" r="13" fill="none" stroke="#ccc" stroke-width="0.9"/>
<circle cx="808.75" cy="130.75" r="7.28" fill="none" stroke="#555" stroke-width="0.6"/>
<circle cx="808.75" cy="130.75" r="2.08" fill="#aaa" stroke="#333" stroke-width="0.7"/>
<line x1="810.83" y1="130.75" x2="816.03" y2="130.75" stroke="#444" stroke-width="0.45"/>
<circle cx="816.03" cy="130.75" r="0.55" fill="#333" stroke="none" stroke-width="0"/>
<line x1="810.22" y1="132.22" x2="813.9" y2="135.9" stroke="#444" stroke-width="0.45"/>
<circle cx="813.9" cy="135.9" r="0.55" fill="#333" stroke="none" stroke-width="0"/>
<line x1="808.75" y1="132.83" x2="808.75" y2="138.03" stroke="#444" stroke-width="0.45"/>
<circle cx="808.75" cy="138.03" r="0.55" fill="#333" stroke="none" stroke-width="0"/>
<line x1="807.28" y1="132.22" x2="803.6" y2="135.9" stroke="#444" stroke-width="0.45"/>
<circle cx="803.6" cy="135.9" r="0.55" fill="#333" stroke="none" stroke-width="0"/>
<line x1="806.67" y1="130.75" x2="801.47" y2="130.75" stroke="#444" stroke-width="0.45"/>
<circle cx="801.47" cy="130.75" r="0.55" fill="#333" stroke="none" stroke-width="0"/>
<line x1="807.28" y1="129.28" x2="803.6" y2="125.6" stroke="#444" stroke-width="0.45"/>
<circle cx="803.6" cy="125.6" r="0.55" fill="#333" stroke="none" stroke-width="0"/>
<line x1="808.75" y1="128.67" x2="808.75" y2="123.47" stroke="#444" stroke-width="0.45"/>
<circle cx="808.75" cy="123.47" r="0.55" fill="#333" stroke="none" stroke-width="0"/>
<line x1="810.22" y1="129.28" x2="813.9" y2="125.6" stroke="#444" stroke-width="0.45"/>
<circle cx="813.9" cy="125.6" r="0.55" fill="#333" stroke="none" stroke-width="0"/>
<line x1="796.79" y1="130.75" x2="820.71" y2="130.75" stroke="#444" stroke-width="0.5" stroke-dasharray="3 1.2 0.8 1.2"/>
<line x1="808.75" y1="118.79" x2="808.75" y2="142.71" stroke="#444" stroke-width="0.5" stroke-dasharray="3 1.2 0.8 1.2"/>
<circle cx="692" cy="268" r="13.5" fill="none" stroke="#ccc" stroke-width="0.9"/>
<circle cx="692" cy="268" r="7.56" fill="none" stroke="#555" stroke-width="0.6"/>
<circle cx="692" cy="268" r="2.16" fill="#aaa" stroke="#333" stroke-width="0.7"/>
<line x1="694.16" y1="268" x2="699.56" y2="268" stroke="#444" stroke-width="0.45"/>
<circle cx="699.56" cy="268" r="0.55" fill="#333" stroke="none" stroke-width="0"/>
<line x1="693.53" y1="269.53" x2="697.35" y2="273.35" stroke="#444" stroke-width="0.45"/>
<circle cx="697.35" cy="273.35" r="0.55" fill="#333" stroke="none" stroke-width="0"/>
<line x1="692" y1="270.16" x2="692" y2="275.56" stroke="#444" stroke-width="0.45"/>
<circle cx="692" cy="275.56" r="0.55" fill="#333" stroke="none" stroke-width="0"/>
<line x1="690.47" y1="269.53" x2="686.65" y2="273.35" stroke="#444" stroke-width="0.45"/>
<circle cx="686.65" cy="273.35" r="0.55" fill="#333" stroke="none" stroke-width="0"/>
<line x1="689.84" y1="268" x2="684.44" y2="268" stroke="#444" stroke-width="0.45"/>
<circle cx="684.44" cy="268" r="0.55" fill="#333" stroke="none" stroke-width="0"/>
<line x1="690.47" y1="266.47" x2="686.65" y2="262.65" stroke="#444" stroke-width="0.45"/>
<circle cx="686.65" cy="262.65" r="0.55" fill="#333" stroke="none" stroke-width="0"/>
<line x1="692" y1="265.84" x2="692" y2="260.44" stroke="#444" stroke-width="0.45"/>
<circle cx="692" cy="260.44" r="0.55" fill="#333" stroke="none" stroke-width="0"/>
<line x1="693.53" y1="266.47" x2="697.35" y2="262.65" stroke="#444" stroke-width="0.45"/>
<circle cx="697.35" cy="262.65" r="0.55" fill="#333" stroke="none" stroke-width="0"/>
<line x1="679.58" y1="268" x2="704.42" y2="268" stroke="#444" stroke-width="0.5" stroke-dasharray="3 1.2 0.8 1.2"/>
<line x1="692" y1="255.58" x2="692" y2="280.42" stroke="#444" stroke-width="0.5" stroke-dasharray="3 1.2 0.8 1.2"/>
<circle cx="865" cy="321.25" r="13.5" fill="none" stroke="#ccc" stroke-width="0.9"/>
<circle cx="865" cy="321.25" r="7.56" fill="none" stroke="#555" stroke-width="0.6"/>
<circle cx="865" cy="321.25" r="2.16" fill="#aaa" stroke="#333" stroke-width="0.7"/>
<line x1="867.16" y1="321.25" x2="872.56" y2="321.25" stroke="#444" stroke-width="0.45"/>
<circle cx="872.56" cy="321.25" r="0.55" fill="#333" stroke="none" stroke-width="0"/>
<line x1="866.53" y1="322.78" x2="870.35" y2="326.6" stroke="#444" stroke-width="0.45"/>
<circle cx="870.35" cy="326.6" r="0.55" fill="#333" stroke="none" stroke-width="0"/>
<line x1="865" y1="323.41" x2="865" y2="328.81" stroke="#444" stroke-width="0.45"/>
<circle cx="865" cy="328.81" r="0.55" fill="#333" stroke="none" stroke-width="0"/>
<line x1="863.47" y1="322.78" x2="859.65" y2="326.6" stroke="#444" stroke-width="0.45"/>
<circle cx="859.65" cy="326.6" r="0.55" fill="#333" stroke="none" stroke-width="0"/>
<line x1="862.84" y1="321.25" x2="857.44" y2="321.25" stroke="#444" stroke-width="0.45"/>
<circle cx="857.44" cy="321.25" r="0.55" fill="#333" stroke="none" stroke-width="0"/>
<line x1="863.47" y1="319.72" x2="859.65" y2="315.9" stroke="#444" stroke-width="0.45"/>
<circle cx="859.65" cy="315.9" r="0.55" fill="#333" stroke="none" stroke-width="0"/>
<line x1="865" y1="319.09" x2="865" y2="313.69" stroke="#444" stroke-width="0.45"/>
<circle cx="865" cy="313.69" r="0.55" fill="#333" stroke="none" stroke-width="0"/>
<line x1="866.53" y1="319.72" x2="870.35" y2="315.9" stroke="#444" stroke-width="0.45"/>
<circle cx="870.35" cy="315.9" r="0.55" fill="#333" stroke="none" stroke-width="0"/>
<line x1="852.58" y1="321.25" x2="877.42" y2="321.25" stroke="#444" stroke-width="0.5" stroke-dasharray="3 1.2 0.8 1.2"/>
<line x1="865" y1="308.83" x2="865" y2="333.67" stroke="#444" stroke-width="0.5" stroke-dasharray="3 1.2 0.8 1.2"/>
<rect x="735" y="191" width="57.4" height="57.8" fill="none" stroke="#aaa" stroke-width="0.8" rx="3"/>
<line x1="741.2" y1="191.3" x2="741.2" y2="248.5" stroke="#666" stroke-width="0.55"/>
<line x1="746.85" y1="191.3" x2="746.85" y2="248.5" stroke="#666" stroke-width="0.55"/>
<line x1="752.5" y1="191.3" x2="752.5" y2="248.5" stroke="#666" stroke-width="0.55"/>
<line x1="758.15" y1="191.3" x2="758.15" y2="248.5" stroke="#666" stroke-width="0.55"/>
<line x1="763.8" y1="191.3" x2="763.8" y2="248.5" stroke="#666" stroke-width="0.55"/>
<line x1="769.45" y1="191.3" x2="769.45" y2="248.5" stroke="#666" stroke-width="0.55"/>
<line x1="775.1" y1="191.3" x2="775.1" y2="248.5" stroke="#666" stroke-width="0.55"/>
<line x1="780.75" y1="191.3" x2="780.75" y2="248.5" stroke="#666" stroke-width="0.55"/>
<line x1="786.4" y1="191.3" x2="786.4" y2="248.5" stroke="#666" stroke-width="0.55"/>
<line x1="735.3" y1="197.4" x2="792.1" y2="197.4" stroke="#666" stroke-width="0.55"/>
<line x1="735.3" y1="202.92" x2="792.1" y2="202.92" stroke="#666" stroke-width="0.55"/>
<line x1="735.3" y1="208.44" x2="792.1" y2="208.44" stroke="#666" stroke-width="0.55"/>
<line x1="735.3" y1="213.96" x2="792.1" y2="213.96" stroke="#666" stroke-width="0.55"/>
<line x1="735.3" y1="219.48" x2="792.1" y2="219.48" stroke="#666" stroke-width="0.55"/>
<line x1="735.3" y1="225" x2="792.1" y2="225" stroke="#666" stroke-width="0.55"/>
<line x1="735.3" y1="230.52" x2="792.1" y2="230.52" stroke="#666" stroke-width="0.55"/>
<line x1="735.3" y1="236.04" x2="792.1" y2="236.04" stroke="#666" stroke-width="0.55"/>
<line x1="735.3" y1="241.56" x2="792.1" y2="241.56" stroke="#666" stroke-width="0.55"/>
<line x1="735.3" y1="247.08" x2="792.1" y2="247.08" stroke="#666" stroke-width="0.55"/>
<g opacity="0.98" filter="url(#nf)">
<text text-rendering="geometricPrecision" transform="translate(708.4 185.2) rotate(-90)" text-anchor="end" font-family="Liberation Sans, sans-serif" font-size="7.6" fill="#333" stroke="#333" stroke-width="0.25" textLength="25.8" lengthAdjust="spacingAndGlyphs">ROOMM</text>
<text text-rendering="geometricPrecision" transform="translate(716.4 185.2) rotate(-90)" text-anchor="end" font-family="Liberation Sans, sans-serif" font-size="7.6" fill="#333" stroke="#333" stroke-width="0.25" textLength="21.6" lengthAdjust="spacingAndGlyphs">LIVING</text>
</g>
<g transform="translate(647.8 107.7) rotate(-48.4)">
<path d="M-19.75 23 V-7.59 C-19.75 -16.07 -12.82 -23 -4.34 -23 H4.34 C12.82 -23 19.75 -16.07 19.75 -7.59 V23 Z" fill="#fff" stroke="#cfcfcf" stroke-width="0.9"/>
<path d="M-15.25 21.5 V-6.61 C-15.25 -13.15 -9.9 -18.5 -3.36 -18.5 H3.36 C9.9 -18.5 15.25 -13.15 15.25 -6.61 V21.5 Z" fill="none" stroke="#999" stroke-width="0.8"/>
</g>
<g transform="translate(722.2 94.8) rotate(18.6)">
<path d="M-20 22 V-6.4 C-20 -14.98 -12.98 -22 -4.4 -22 H4.4 C12.98 -22 20 -14.98 20 -6.4 V22 Z" fill="#fff" stroke="#cfcfcf" stroke-width="0.9"/>
<path d="M-15.5 20.5 V-5.41 C-15.5 -12.06 -10.06 -17.5 -3.41 -17.5 H3.41 C10.06 -17.5 15.5 -12.06 15.5 -5.41 V20.5 Z" fill="none" stroke="#999" stroke-width="0.8"/>
</g>
<circle cx="687.3" cy="128.7" r="11.3" fill="#fff" stroke="#999" stroke-width="0.8"/>
<path d="M920.5 122.5 L1011.25 122.5 L1011.25 148" fill="none" stroke="#999" stroke-width="0.8"/>
<path d="M920.5 122.5 L920.5 270.75 L1011.25 270.75 L1011.25 240" fill="none" stroke="#999" stroke-width="0.8"/>
<rect x="953" y="148" width="107" height="92" fill="#fff" stroke="#aaa" stroke-width="0.9"/>
<rect x="954.5" y="149.5" width="104" height="89" fill="none" stroke="#ddd" stroke-width="0.7"/>
<path d="M1011.25 213.25 L1038.75 213.25 L1011.25 240 Z" fill="#fff" stroke="#777" stroke-width="0.8"/>
<line x1="1039.5" y1="148" x2="1039.5" y2="213" stroke="#aaa" stroke-width="0.8"/>
<rect x="1039.5" y="157.5" width="16" height="32.5" fill="none" stroke="#999" stroke-width="0.8" rx="1.5"/>
<rect x="1039.5" y="198" width="16" height="32" fill="none" stroke="#999" stroke-width="0.8" rx="1.5"/>
<line x1="1041" y1="188" x2="1054" y2="188" stroke="#aaa" stroke-width="0.6"/>
<line x1="1041" y1="228" x2="1054" y2="228" stroke="#aaa" stroke-width="0.6"/>
<line x1="1060" y1="148" x2="1060" y2="240" stroke="#999" stroke-width="0.8"/>
<line x1="1062.5" y1="118" x2="1062.5" y2="270" stroke="#cfcfcf" stroke-width="0.8"/>
<rect x="1032" y="118.25" width="27.5" height="26.75" fill="none" stroke="#cfcfcf" stroke-width="0.9"/>
<rect x="1034" y="120" width="23.5" height="23" fill="none" stroke="#ddd" stroke-width="0.7"/>
<rect x="1032" y="243.75" width="27" height="26.25" fill="none" stroke="#cfcfcf" stroke-width="0.9"/>
<rect x="1034" y="245.5" width="23" height="22.5" fill="none" stroke="#ddd" stroke-width="0.7"/>
<circle cx="1045.5" cy="131.5" r="6.5" fill="none" stroke="#888" stroke-width="0.6"/>
<circle cx="1045.5" cy="131.5" r="1.6" fill="#888" stroke="#222" stroke-width="0.8"/>
<line x1="1047" y1="131.5" x2="1052" y2="131.5" stroke="#222" stroke-width="0.7"/>
<line x1="1046.56" y1="132.56" x2="1050.1" y2="136.1" stroke="#222" stroke-width="0.7"/>
<line x1="1045.5" y1="133" x2="1045.5" y2="138" stroke="#222" stroke-width="0.7"/>
<line x1="1044.44" y1="132.56" x2="1040.9" y2="136.1" stroke="#222" stroke-width="0.7"/>
<line x1="1044" y1="131.5" x2="1039" y2="131.5" stroke="#222" stroke-width="0.7"/>
<line x1="1044.44" y1="130.44" x2="1040.9" y2="126.9" stroke="#222" stroke-width="0.7"/>
<line x1="1045.5" y1="130" x2="1045.5" y2="125" stroke="#222" stroke-width="0.7"/>
<line x1="1046.56" y1="130.44" x2="1050.1" y2="126.9" stroke="#222" stroke-width="0.7"/>
<line x1="1032.5" y1="131.5" x2="1058.5" y2="131.5" stroke="#333" stroke-width="0.5" stroke-dasharray="4 1.2 1 1.2"/>
<line x1="1045.5" y1="118.5" x2="1045.5" y2="144.5" stroke="#333" stroke-width="0.5" stroke-dasharray="4 1.2 1 1.2"/>
<circle cx="1045.5" cy="256.75" r="6.5" fill="none" stroke="#888" stroke-width="0.6"/>
<circle cx="1045.5" cy="256.75" r="1.6" fill="#888" stroke="#222" stroke-width="0.8"/>
<line x1="1047" y1="256.75" x2="1052" y2="256.75" stroke="#222" stroke-width="0.7"/>
<line x1="1046.56" y1="257.81" x2="1050.1" y2="261.35" stroke="#222" stroke-width="0.7"/>
<line x1="1045.5" y1="258.25" x2="1045.5" y2="263.25" stroke="#222" stroke-width="0.7"/>
<line x1="1044.44" y1="257.81" x2="1040.9" y2="261.35" stroke="#222" stroke-width="0.7"/>
<line x1="1044" y1="256.75" x2="1039" y2="256.75" stroke="#222" stroke-width="0.7"/>
<line x1="1044.44" y1="255.69" x2="1040.9" y2="252.15" stroke="#222" stroke-width="0.7"/>
<line x1="1045.5" y1="255.25" x2="1045.5" y2="250.25" stroke="#222" stroke-width="0.7"/>
<line x1="1046.56" y1="255.69" x2="1050.1" y2="252.15" stroke="#222" stroke-width="0.7"/>
<line x1="1032.5" y1="256.75" x2="1058.5" y2="256.75" stroke="#333" stroke-width="0.5" stroke-dasharray="4 1.2 1 1.2"/>
<line x1="1045.5" y1="243.75" x2="1045.5" y2="269.75" stroke="#333" stroke-width="0.5" stroke-dasharray="4 1.2 1 1.2"/>
<g transform="translate(915.8 136.6) rotate(38)">
<rect x="-16.5" y="-12.5" width="33" height="25" fill="#fff" stroke="#888" stroke-width="0.8" rx="3"/>
<rect x="-13.5" y="-12.5" width="30" height="22" fill="none" stroke="#aaa" stroke-width="0.7" rx="2"/>
<rect x="-15" y="-11" width="30.5" height="22" fill="none" stroke="#bbb" stroke-width="0.6" rx="2"/>
</g>
<circle cx="935.5" cy="120.75" r="8" fill="none" stroke="#999" stroke-width="0.8"/>
<rect x="240.75" y="562" width="23" height="25.5" fill="none" stroke="#cfcfcf" stroke-width="0.9"/>
<circle cx="252" cy="575" r="5" fill="none" stroke="#999" stroke-width="0.8"/>
<circle cx="252" cy="575" r="2.4" fill="none" stroke="#999" stroke-width="0.6"/>
<line x1="244.5" y1="575" x2="259.5" y2="575" stroke="#999" stroke-width="0.5"/>
<line x1="252" y1="567.5" x2="252" y2="582.5" stroke="#999" stroke-width="0.5"/>
<rect x="242" y="590" width="100.5" height="92" fill="none" stroke="#bbb" stroke-width="0.9"/>
<rect x="243.5" y="591.5" width="97" height="89" fill="none" stroke="#999" stroke-width="0.7"/>
<path d="M337 591.5 q3.5 0 3.5 3.5 M337 680.5 q3.5 0 3.5 -3.5" fill="none" stroke="#555" stroke-width="1.2"/>
<rect x="244.5" y="594.2" width="22.2" height="41.4" fill="none" stroke="#777" stroke-width="0.8" rx="1.5"/>
<rect x="244.5" y="637.2" width="22.2" height="41.5" fill="none" stroke="#777" stroke-width="0.8" rx="1.5"/>
<rect x="244.5" y="634" width="21.75" height="3" fill="none" stroke="#777" stroke-width="0.7"/>
<path d="M248 594 Q253 615 247 635 M263 594 Q258 615 264 635 M248 637 Q253 658 247 677 M263 637 Q258 658 264 677" fill="none" stroke="#888" stroke-width="0.6"/>
<path d="M277.5 591.9 Q268.5 613 267.3 635.6 M287.5 596.5 Q272.5 615 267.3 635.6 M277.5 591.9 Q281 596.8 287.5 596.5 M274 593 Q267 615 266.8 634" fill="none" stroke="#777" stroke-width="0.7"/>
<path d="M277.5 680.9 Q268.5 659.8 267.3 637.2 M287.5 676.3 Q272.5 657.8 267.3 637.2 M277.5 680.9 Q281 676 287.5 676.3 M274 679.8 Q267 657.8 266.8 638.8" fill="none" stroke="#777" stroke-width="0.7"/>
<g transform="translate(285.4 717.2) rotate(12.5)">
<rect x="-15.5" y="-15.5" width="31" height="31" fill="#fff" stroke="#999" stroke-width="1.1"/>
<rect x="-11" y="-11" width="22" height="22" fill="none" stroke="#d8d8d8" stroke-width="0.7"/>
<path d="M-6 -8 L3 -6 L1 4 L-3 3 L-5 7 L-9 5 L-10 -1 L-7 -3 Z" fill="none" stroke="#777" stroke-width="0.8"/>
</g>
<rect x="241.25" y="682.5" width="30" height="76.25" fill="#fff" stroke="#ddd" stroke-width="0.9"/>
<ellipse cx="250.5" cy="701" rx="4.5" ry="8" fill="none" stroke="#e0e0e0" stroke-width="0.7"/>
<path d="M248 714 L255.5 687.5 L258 688 L250.5 715 Z" fill="#fff" stroke="#aaa" stroke-width="0.8"/>
<g transform="translate(264.5 710.5) rotate(18)">
<rect x="-4.5" y="-11" width="3.5" height="21" fill="none" stroke="#ccc" stroke-width="0.6"/>
<rect x="-1" y="-10" width="4.5" height="19" fill="#c4c4c4" stroke="#999" stroke-width="0.6"/>
<line x1="-1" y1="-9" x2="3.5" y2="-9" stroke="#888" stroke-width="0.6"/>
<line x1="-1" y1="-6.9" x2="3.5" y2="-6.9" stroke="#888" stroke-width="0.6"/>
<line x1="-1" y1="-4.8" x2="3.5" y2="-4.8" stroke="#888" stroke-width="0.6"/>
<line x1="-1" y1="-2.7" x2="3.5" y2="-2.7" stroke="#888" stroke-width="0.6"/>
<line x1="-1" y1="-0.6" x2="3.5" y2="-0.6" stroke="#888" stroke-width="0.6"/>
<line x1="-1" y1="1.5" x2="3.5" y2="1.5" stroke="#888" stroke-width="0.6"/>
<line x1="-1" y1="3.6" x2="3.5" y2="3.6" stroke="#888" stroke-width="0.6"/>
<line x1="-1" y1="5.7" x2="3.5" y2="5.7" stroke="#888" stroke-width="0.6"/>
<line x1="-1" y1="7.8" x2="3.5" y2="7.8" stroke="#888" stroke-width="0.6"/>
</g>
<circle cx="255" cy="740" r="6" fill="none" stroke="#bbb" stroke-width="0.8"/>
<line x1="249.5" y1="734.5" x2="260.5" y2="745.5" stroke="#aaa" stroke-width="0.6"/>
<line x1="249.5" y1="745.5" x2="260.5" y2="734.5" stroke="#aaa" stroke-width="0.6"/>
<circle cx="403.8" cy="710.8" r="9.2" fill="none" stroke="#aaa" stroke-width="1"/>
<line x1="397" y1="704" x2="410.6" y2="717.6" stroke="#aaa" stroke-width="0.6"/>
<line x1="397" y1="717.6" x2="410.6" y2="704" stroke="#aaa" stroke-width="0.6"/>
<ellipse cx="214" cy="644" rx="10.8" ry="13.2" fill="none" stroke="#bbb" stroke-width="1.0"/>
<ellipse cx="215.2" cy="644" rx="5.94" ry="11.35" fill="none" stroke="#777" stroke-width="0.8"/>
<circle cx="222.86" cy="644.8" r="1.3" fill="none" stroke="#999" stroke-width="0.7"/>
<line x1="222.64" y1="644.6" x2="216.7" y2="642.8" stroke="#777" stroke-width="1.0"/>
<circle cx="216.7" cy="642.8" r="0.9" fill="none" stroke="#777" stroke-width="0.6"/>
<ellipse cx="214" cy="681.6" rx="10.8" ry="13.2" fill="none" stroke="#bbb" stroke-width="1.0"/>
<ellipse cx="215.2" cy="681.6" rx="5.94" ry="11.35" fill="none" stroke="#777" stroke-width="0.8"/>
<circle cx="222.86" cy="682.4" r="1.3" fill="none" stroke="#999" stroke-width="0.7"/>
<line x1="222.64" y1="682.2" x2="216.7" y2="680.4" stroke="#777" stroke-width="1.0"/>
<circle cx="216.7" cy="680.4" r="0.9" fill="none" stroke="#777" stroke-width="0.6"/>
<g transform="translate(98 742) rotate(90) scale(1)">
<path d="M-12.5 7 Q-13 -19 0 -19 Q13 -19 12.5 7 Z" fill="none" stroke="#777" stroke-width="0.8"/>
<path d="M-9.5 4 Q-10 -15.5 0 -15.5 Q10 -15.5 9.5 4 Z" fill="none" stroke="#aaa" stroke-width="0.7"/>
<rect x="-12" y="6" width="24" height="12" fill="none" stroke="#999" stroke-width="0.8" rx="2"/>
<line x1="-4" y1="5" x2="4" y2="5" stroke="#444" stroke-width="0.9" stroke-dasharray="2 1.3"/>
<line x1="-4" y1="10" x2="4" y2="10" stroke="#444" stroke-width="0.9" stroke-dasharray="2 1.3"/>
<line x1="-4" y1="5" x2="-4" y2="10" stroke="#666" stroke-width="0.6"/>
<line x1="4" y1="5" x2="4" y2="10" stroke="#666" stroke-width="0.6"/>
</g>
<circle cx="203.3" cy="739" r="4.9" fill="none" stroke="#999" stroke-width="0.9"/>
<line x1="201.5" y1="739" x2="214" y2="739" stroke="#888" stroke-width="1.3"/>
<circle cx="203.3" cy="739" r="1.5" fill="#fff" stroke="#777" stroke-width="0.6"/>
<line x1="453" y1="495.5" x2="453" y2="580.5" stroke="#cfcfcf" stroke-width="0.8"/>
<line x1="455.5" y1="495.5" x2="455.5" y2="580.5" stroke="#cfcfcf" stroke-width="0.8"/>
<ellipse cx="439.5" cy="518.5" rx="10.5" ry="12.8" fill="none" stroke="#bbb" stroke-width="1.0"/>
<ellipse cx="438.3" cy="518.5" rx="5.78" ry="11.01" fill="none" stroke="#777" stroke-width="0.8"/>
<circle cx="430.89" cy="519.3" r="1.3" fill="none" stroke="#999" stroke-width="0.7"/>
<line x1="431.1" y1="519.1" x2="436.88" y2="517.3" stroke="#777" stroke-width="1.0"/>
<circle cx="436.88" cy="517.3" r="0.9" fill="none" stroke="#777" stroke-width="0.6"/>
<ellipse cx="439.5" cy="557" rx="10.5" ry="12.8" fill="none" stroke="#bbb" stroke-width="1.0"/>
<ellipse cx="438.3" cy="557" rx="5.78" ry="11.01" fill="none" stroke="#777" stroke-width="0.8"/>
<circle cx="430.89" cy="557.8" r="1.3" fill="none" stroke="#999" stroke-width="0.7"/>
<line x1="431.1" y1="557.6" x2="436.88" y2="555.8" stroke="#777" stroke-width="1.0"/>
<circle cx="436.88" cy="555.8" r="0.9" fill="none" stroke="#777" stroke-width="0.6"/>
<g transform="translate(565 528.75) rotate(-90) scale(1)">
<path d="M-12.5 7 Q-13 -19 0 -19 Q13 -19 12.5 7 Z" fill="none" stroke="#777" stroke-width="0.8"/>
<path d="M-9.5 4 Q-10 -15.5 0 -15.5 Q10 -15.5 9.5 4 Z" fill="none" stroke="#aaa" stroke-width="0.7"/>
<rect x="-12" y="6" width="24" height="12" fill="none" stroke="#999" stroke-width="0.8" rx="2"/>
<line x1="-4" y1="5" x2="4" y2="5" stroke="#444" stroke-width="0.9" stroke-dasharray="2 1.3"/>
<line x1="-4" y1="10" x2="4" y2="10" stroke="#444" stroke-width="0.9" stroke-dasharray="2 1.3"/>
<line x1="-4" y1="5" x2="-4" y2="10" stroke="#666" stroke-width="0.6"/>
<line x1="4" y1="5" x2="4" y2="10" stroke="#666" stroke-width="0.6"/>
</g>
<rect x="497" y="685.75" width="31.25" height="77.25" fill="none" stroke="#cfcfcf" stroke-width="0.9"/>
<rect x="482" y="696.25" width="20.5" height="20.75" fill="none" stroke="#bbb" stroke-width="0.9"/>
<rect x="484" y="698" width="17" height="17.5" fill="none" stroke="#ddd" stroke-width="0.7"/>
<circle cx="515.75" cy="750.75" r="5.5" fill="none" stroke="#999" stroke-width="0.7"/>
<circle cx="515.75" cy="750.75" r="2" fill="none" stroke="#444" stroke-width="0.8"/>
<line x1="504" y1="750.75" x2="528" y2="750.75" stroke="#444" stroke-width="0.6" stroke-dasharray="5 1.2 1 1.2"/>
<line x1="515.75" y1="733" x2="515.75" y2="762" stroke="#444" stroke-width="0.6" stroke-dasharray="5 1.2 1 1.2"/>
<g transform="translate(394 744.3) rotate(129)">
<path d="M-16.5 20.5 V-7.63 C-16.5 -14.71 -10.71 -20.5 -3.63 -20.5 H3.63 C10.71 -20.5 16.5 -14.71 16.5 -7.63 V20.5 Z" fill="#fff" stroke="#cfcfcf" stroke-width="0.9"/>
<path d="M-13.3 19 V-6.93 C-13.3 -12.63 -8.63 -17.3 -2.93 -17.3 H2.93 C8.63 -17.3 13.3 -12.63 13.3 -6.93 V19 Z" fill="none" stroke="#999" stroke-width="0.8"/>
</g>
<circle cx="708.25" cy="574.5" r="46.5" fill="none" stroke="#ddd" stroke-width="0.8"/>
<circle cx="708.25" cy="574.5" r="44.5" fill="none" stroke="#444" stroke-width="0.9"/>
<circle cx="708.25" cy="574.5" r="43" fill="none" stroke="#ccc" stroke-width="0.7"/>
<circle cx="708.25" cy="574.5" r="31" fill="none" stroke="#777" stroke-width="0.8"/>
<g transform="translate(708.25 574.5) rotate(0)">
<path d="M53 -11.5 L72 -11.5 Q78 0 72 11.5 L53 11.5 Q49.5 11.5 49.5 8.5 L49.5 -8.5 Q49.5 -11.5 53 -11.5 Z" fill="none" stroke="#cfcfcf" stroke-width="0.9"/>
<path d="M72 -11.3 Q78 0 72 11.3 L69.3 10.6 Q74.6 0 69.3 -10.6 Z" fill="none" stroke="#999" stroke-width="0.7"/>
</g>
<g transform="translate(708.25 574.5) rotate(36)">
<path d="M53 -11.5 L72 -11.5 Q78 0 72 11.5 L53 11.5 Q49.5 11.5 49.5 8.5 L49.5 -8.5 Q49.5 -11.5 53 -11.5 Z" fill="none" stroke="#cfcfcf" stroke-width="0.9"/>
<path d="M72 -11.3 Q78 0 72 11.3 L69.3 10.6 Q74.6 0 69.3 -10.6 Z" fill="none" stroke="#999" stroke-width="0.7"/>
</g>
<g transform="translate(708.25 574.5) rotate(72)">
<path d="M53 -11.5 L72 -11.5 Q78 0 72 11.5 L53 11.5 Q49.5 11.5 49.5 8.5 L49.5 -8.5 Q49.5 -11.5 53 -11.5 Z" fill="none" stroke="#cfcfcf" stroke-width="0.9"/>
<path d="M72 -11.3 Q78 0 72 11.3 L69.3 10.6 Q74.6 0 69.3 -10.6 Z" fill="none" stroke="#999" stroke-width="0.7"/>
</g>
<g transform="translate(708.25 574.5) rotate(108)">
<path d="M53 -11.5 L72 -11.5 Q78 0 72 11.5 L53 11.5 Q49.5 11.5 49.5 8.5 L49.5 -8.5 Q49.5 -11.5 53 -11.5 Z" fill="none" stroke="#cfcfcf" stroke-width="0.9"/>
<path d="M72 -11.3 Q78 0 72 11.3 L69.3 10.6 Q74.6 0 69.3 -10.6 Z" fill="none" stroke="#999" stroke-width="0.7"/>
</g>
<g transform="translate(708.25 574.5) rotate(144)">
<path d="M53 -11.5 L72 -11.5 Q78 0 72 11.5 L53 11.5 Q49.5 11.5 49.5 8.5 L49.5 -8.5 Q49.5 -11.5 53 -11.5 Z" fill="none" stroke="#cfcfcf" stroke-width="0.9"/>
<path d="M72 -11.3 Q78 0 72 11.3 L69.3 10.6 Q74.6 0 69.3 -10.6 Z" fill="none" stroke="#999" stroke-width="0.7"/>
</g>
<g transform="translate(708.25 574.5) rotate(180)">
<path d="M53 -11.5 L72 -11.5 Q78 0 72 11.5 L53 11.5 Q49.5 11.5 49.5 8.5 L49.5 -8.5 Q49.5 -11.5 53 -11.5 Z" fill="none" stroke="#cfcfcf" stroke-width="0.9"/>
<path d="M72 -11.3 Q78 0 72 11.3 L69.3 10.6 Q74.6 0 69.3 -10.6 Z" fill="none" stroke="#999" stroke-width="0.7"/>
</g>
<g transform="translate(708.25 574.5) rotate(216)">
<path d="M53 -11.5 L72 -11.5 Q78 0 72 11.5 L53 11.5 Q49.5 11.5 49.5 8.5 L49.5 -8.5 Q49.5 -11.5 53 -11.5 Z" fill="none" stroke="#cfcfcf" stroke-width="0.9"/>
<path d="M72 -11.3 Q78 0 72 11.3 L69.3 10.6 Q74.6 0 69.3 -10.6 Z" fill="none" stroke="#999" stroke-width="0.7"/>
</g>
<g transform="translate(708.25 574.5) rotate(252)">
<path d="M53 -11.5 L72 -11.5 Q78 0 72 11.5 L53 11.5 Q49.5 11.5 49.5 8.5 L49.5 -8.5 Q49.5 -11.5 53 -11.5 Z" fill="none" stroke="#cfcfcf" stroke-width="0.9"/>
<path d="M72 -11.3 Q78 0 72 11.3 L69.3 10.6 Q74.6 0 69.3 -10.6 Z" fill="none" stroke="#999" stroke-width="0.7"/>
</g>
<g transform="translate(708.25 574.5) rotate(288)">
<path d="M53 -11.5 L72 -11.5 Q78 0 72 11.5 L53 11.5 Q49.5 11.5 49.5 8.5 L49.5 -8.5 Q49.5 -11.5 53 -11.5 Z" fill="none" stroke="#cfcfcf" stroke-width="0.9"/>
<path d="M72 -11.3 Q78 0 72 11.3 L69.3 10.6 Q74.6 0 69.3 -10.6 Z" fill="none" stroke="#999" stroke-width="0.7"/>
</g>
<g transform="translate(708.25 574.5) rotate(324)">
<path d="M53 -11.5 L72 -11.5 Q78 0 72 11.5 L53 11.5 Q49.5 11.5 49.5 8.5 L49.5 -8.5 Q49.5 -11.5 53 -11.5 Z" fill="none" stroke="#cfcfcf" stroke-width="0.9"/>
<path d="M72 -11.3 Q78 0 72 11.3 L69.3 10.6 Q74.6 0 69.3 -10.6 Z" fill="none" stroke="#999" stroke-width="0.7"/>
</g>
<rect x="601.7" y="706.3" width="29.3" height="79.4" fill="none" stroke="#cfcfcf" stroke-width="0.9"/>
<line x1="612.7" y1="706.3" x2="612.7" y2="785.7" stroke="#cfcfcf" stroke-width="0.8"/>
<line x1="615.4" y1="706.3" x2="615.4" y2="785.7" stroke="#cfcfcf" stroke-width="0.8"/>
<rect x="617.5" y="723" width="3.1" height="47" fill="none" stroke="#aaa" stroke-width="0.7"/>
<rect x="623" y="711.7" width="8" height="69.8" fill="none" stroke="#bbb" stroke-width="0.6"/>
<line x1="623" y1="711.7" x2="631" y2="711.7" stroke="#bbb" stroke-width="0.5"/>
<line x1="623.4" y1="712.67" x2="627.8" y2="712.67" stroke="#777" stroke-width="1.0"/>
<line x1="623" y1="713.64" x2="631" y2="713.64" stroke="#bbb" stroke-width="0.5"/>
<line x1="623.4" y1="714.61" x2="627.8" y2="714.61" stroke="#777" stroke-width="1.0"/>
<line x1="623" y1="715.58" x2="631" y2="715.58" stroke="#bbb" stroke-width="0.5"/>
<line x1="623" y1="717.52" x2="631" y2="717.52" stroke="#bbb" stroke-width="0.5"/>
<line x1="623.4" y1="718.49" x2="627.8" y2="718.49" stroke="#777" stroke-width="1.0"/>
<line x1="623" y1="719.46" x2="631" y2="719.46" stroke="#bbb" stroke-width="0.5"/>
<line x1="623.4" y1="720.43" x2="627.8" y2="720.43" stroke="#777" stroke-width="1.0"/>
<line x1="623" y1="721.39" x2="631" y2="721.39" stroke="#bbb" stroke-width="0.5"/>
<line x1="623.4" y1="722.36" x2="627.8" y2="722.36" stroke="#777" stroke-width="1.0"/>
<line x1="623" y1="723.33" x2="631" y2="723.33" stroke="#bbb" stroke-width="0.5"/>
<line x1="623" y1="725.27" x2="631" y2="725.27" stroke="#bbb" stroke-width="0.5"/>
<line x1="623.4" y1="726.24" x2="627.8" y2="726.24" stroke="#777" stroke-width="1.0"/>
<line x1="623" y1="727.21" x2="631" y2="727.21" stroke="#bbb" stroke-width="0.5"/>
<line x1="623.4" y1="728.18" x2="627.8" y2="728.18" stroke="#777" stroke-width="1.0"/>
<line x1="623" y1="729.15" x2="631" y2="729.15" stroke="#bbb" stroke-width="0.5"/>
<line x1="623" y1="731.09" x2="631" y2="731.09" stroke="#bbb" stroke-width="0.5"/>
<line x1="623.4" y1="732.06" x2="627.8" y2="732.06" stroke="#777" stroke-width="1.0"/>
<line x1="623" y1="733.03" x2="631" y2="733.03" stroke="#bbb" stroke-width="0.5"/>
<line x1="623.4" y1="734" x2="627.8" y2="734" stroke="#777" stroke-width="1.0"/>
<line x1="623" y1="734.97" x2="631" y2="734.97" stroke="#bbb" stroke-width="0.5"/>
<line x1="623.4" y1="735.94" x2="627.8" y2="735.94" stroke="#777" stroke-width="1.0"/>
<line x1="623" y1="736.91" x2="631" y2="736.91" stroke="#bbb" stroke-width="0.5"/>
<line x1="623" y1="738.84" x2="631" y2="738.84" stroke="#bbb" stroke-width="0.5"/>
<line x1="623.4" y1="739.81" x2="627.8" y2="739.81" stroke="#777" stroke-width="1.0"/>
<line x1="623" y1="740.78" x2="631" y2="740.78" stroke="#bbb" stroke-width="0.5"/>
<line x1="623.4" y1="741.75" x2="627.8" y2="741.75" stroke="#777" stroke-width="1.0"/>
<line x1="623" y1="742.72" x2="631" y2="742.72" stroke="#bbb" stroke-width="0.5"/>
<line x1="623" y1="744.66" x2="631" y2="744.66" stroke="#bbb" stroke-width="0.5"/>
<line x1="623.4" y1="745.63" x2="627.8" y2="745.63" stroke="#777" stroke-width="1.0"/>
<line x1="623" y1="746.6" x2="631" y2="746.6" stroke="#bbb" stroke-width="0.5"/>
<line x1="623.4" y1="747.57" x2="627.8" y2="747.57" stroke="#777" stroke-width="1.0"/>
<line x1="623" y1="748.54" x2="631" y2="748.54" stroke="#bbb" stroke-width="0.5"/>
<line x1="623.4" y1="749.51" x2="627.8" y2="749.51" stroke="#777" stroke-width="1.0"/>
<line x1="623" y1="750.48" x2="631" y2="750.48" stroke="#bbb" stroke-width="0.5"/>
<line x1="623" y1="752.42" x2="631" y2="752.42" stroke="#bbb" stroke-width="0.5"/>
<line x1="623.4" y1="753.39" x2="627.8" y2="753.39" stroke="#777" stroke-width="1.0"/>
<line x1="623" y1="754.36" x2="631" y2="754.36" stroke="#bbb" stroke-width="0.5"/>
<line x1="623.4" y1="755.33" x2="627.8" y2="755.33" stroke="#777" stroke-width="1.0"/>
<line x1="623" y1="756.29" x2="631" y2="756.29" stroke="#bbb" stroke-width="0.5"/>
<line x1="623" y1="758.23" x2="631" y2="758.23" stroke="#bbb" stroke-width="0.5"/>
<line x1="623.4" y1="759.2" x2="627.8" y2="759.2" stroke="#777" stroke-width="1.0"/>
<line x1="623" y1="760.17" x2="631" y2="760.17" stroke="#bbb" stroke-width="0.5"/>
<line x1="623.4" y1="761.14" x2="627.8" y2="761.14" stroke="#777" stroke-width="1.0"/>
<line x1="623" y1="762.11" x2="631" y2="762.11" stroke="#bbb" stroke-width="0.5"/>
<line x1="623.4" y1="763.08" x2="627.8" y2="763.08" stroke="#777" stroke-width="1.0"/>
<line x1="623" y1="764.05" x2="631" y2="764.05" stroke="#bbb" stroke-width="0.5"/>
<line x1="623" y1="765.99" x2="631" y2="765.99" stroke="#bbb" stroke-width="0.5"/>
<line x1="623.4" y1="766.96" x2="627.8" y2="766.96" stroke="#777" stroke-width="1.0"/>
<line x1="623" y1="767.93" x2="631" y2="767.93" stroke="#bbb" stroke-width="0.5"/>
<line x1="623.4" y1="768.9" x2="627.8" y2="768.9" stroke="#777" stroke-width="1.0"/>
<line x1="623" y1="769.87" x2="631" y2="769.87" stroke="#bbb" stroke-width="0.5"/>
<line x1="623" y1="771.81" x2="631" y2="771.81" stroke="#bbb" stroke-width="0.5"/>
<line x1="623.4" y1="772.78" x2="627.8" y2="772.78" stroke="#777" stroke-width="1.0"/>
<line x1="623" y1="773.74" x2="631" y2="773.74" stroke="#bbb" stroke-width="0.5"/>
<line x1="623.4" y1="774.71" x2="627.8" y2="774.71" stroke="#777" stroke-width="1.0"/>
<line x1="623" y1="775.68" x2="631" y2="775.68" stroke="#bbb" stroke-width="0.5"/>
<line x1="623.4" y1="776.65" x2="627.8" y2="776.65" stroke="#777" stroke-width="1.0"/>
<line x1="623" y1="777.62" x2="631" y2="777.62" stroke="#bbb" stroke-width="0.5"/>
<line x1="623" y1="779.56" x2="631" y2="779.56" stroke="#bbb" stroke-width="0.5"/>
<line x1="623.4" y1="780.53" x2="627.8" y2="780.53" stroke="#777" stroke-width="1.0"/>
<rect x="634.2" y="723.3" width="23.8" height="46.9" fill="none" stroke="#cfcfcf" stroke-width="0.9"/>
<rect x="636.6" y="725.4" width="19.1" height="42.4" fill="none" stroke="#777" stroke-width="0.8" rx="1.8"/>
<rect x="690.5" y="755.75" width="90" height="25" fill="none" stroke="#d2d2d2" stroke-width="1.2"/>
<circle cx="702.3" cy="768.25" r="4" fill="none" stroke="#aaa" stroke-width="0.6"/>
<circle cx="702.3" cy="768.25" r="2" fill="none" stroke="#999" stroke-width="0.5"/>
<circle cx="702.3" cy="768.25" r="0.9" fill="#888" stroke="none" stroke-width="0"/>
<line x1="695.3" y1="768.25" x2="709.3" y2="768.25" stroke="#777" stroke-width="0.6"/>
<line x1="702.3" y1="761.25" x2="702.3" y2="775.25" stroke="#777" stroke-width="0.6"/>
<line x1="699.1" y1="765.05" x2="705.5" y2="771.45" stroke="#888" stroke-width="0.5"/>
<line x1="699.1" y1="771.45" x2="705.5" y2="765.05" stroke="#888" stroke-width="0.5"/>
<circle cx="719.2" cy="768.25" r="4" fill="none" stroke="#aaa" stroke-width="0.6"/>
<circle cx="719.2" cy="768.25" r="2" fill="none" stroke="#999" stroke-width="0.5"/>
<circle cx="719.2" cy="768.25" r="0.9" fill="#888" stroke="none" stroke-width="0"/>
<line x1="712.2" y1="768.25" x2="726.2" y2="768.25" stroke="#777" stroke-width="0.6"/>
<line x1="719.2" y1="761.25" x2="719.2" y2="775.25" stroke="#777" stroke-width="0.6"/>
<line x1="716" y1="765.05" x2="722.4" y2="771.45" stroke="#888" stroke-width="0.5"/>
<line x1="716" y1="771.45" x2="722.4" y2="765.05" stroke="#888" stroke-width="0.5"/>
<circle cx="735.7" cy="768.25" r="4" fill="none" stroke="#aaa" stroke-width="0.6"/>
<circle cx="735.7" cy="768.25" r="2" fill="none" stroke="#999" stroke-width="0.5"/>
<circle cx="735.7" cy="768.25" r="0.9" fill="#888" stroke="none" stroke-width="0"/>
<line x1="728.7" y1="768.25" x2="742.7" y2="768.25" stroke="#777" stroke-width="0.6"/>
<line x1="735.7" y1="761.25" x2="735.7" y2="775.25" stroke="#777" stroke-width="0.6"/>
<line x1="732.5" y1="765.05" x2="738.9" y2="771.45" stroke="#888" stroke-width="0.5"/>
<line x1="732.5" y1="771.45" x2="738.9" y2="765.05" stroke="#888" stroke-width="0.5"/>
<circle cx="752.4" cy="768.25" r="4" fill="none" stroke="#aaa" stroke-width="0.6"/>
<circle cx="752.4" cy="768.25" r="2" fill="none" stroke="#999" stroke-width="0.5"/>
<circle cx="752.4" cy="768.25" r="0.9" fill="#888" stroke="none" stroke-width="0"/>
<line x1="745.4" y1="768.25" x2="759.4" y2="768.25" stroke="#777" stroke-width="0.6"/>
<line x1="752.4" y1="761.25" x2="752.4" y2="775.25" stroke="#777" stroke-width="0.6"/>
<line x1="749.2" y1="765.05" x2="755.6" y2="771.45" stroke="#888" stroke-width="0.5"/>
<line x1="749.2" y1="771.45" x2="755.6" y2="765.05" stroke="#888" stroke-width="0.5"/>
<circle cx="769.2" cy="768.25" r="4" fill="none" stroke="#aaa" stroke-width="0.6"/>
<circle cx="769.2" cy="768.25" r="2" fill="none" stroke="#999" stroke-width="0.5"/>
<circle cx="769.2" cy="768.25" r="0.9" fill="#888" stroke="none" stroke-width="0"/>
<line x1="762.2" y1="768.25" x2="776.2" y2="768.25" stroke="#777" stroke-width="0.6"/>
<line x1="769.2" y1="761.25" x2="769.2" y2="775.25" stroke="#777" stroke-width="0.6"/>
<line x1="766" y1="765.05" x2="772.4" y2="771.45" stroke="#888" stroke-width="0.5"/>
<line x1="766" y1="771.45" x2="772.4" y2="765.05" stroke="#888" stroke-width="0.5"/>
<circle cx="703" cy="745.5" r="8.25" fill="none" stroke="#aaa" stroke-width="0.8"/>
<circle cx="721.75" cy="745.5" r="8.25" fill="none" stroke="#aaa" stroke-width="0.8"/>
<circle cx="746.75" cy="791.25" r="8.25" fill="none" stroke="#aaa" stroke-width="0.8"/>
<circle cx="765.5" cy="791.25" r="8.25" fill="none" stroke="#aaa" stroke-width="0.8"/>
<rect x="852.75" y="529" width="47.75" height="32.3" fill="none" stroke="#999" stroke-width="0.9"/>
<rect x="854.3" y="530.5" width="16.5" height="29.5" fill="none" stroke="#ccc" stroke-width="0.7"/>
<rect x="873" y="530.5" width="26" height="29.5" fill="none" stroke="#ccc" stroke-width="0.7"/>
<line x1="871.9" y1="529" x2="871.9" y2="566" stroke="#aaa" stroke-width="1.4"/>
<line x1="853.5" y1="531.6" x2="900" y2="531.6" stroke="#999" stroke-width="1.6"/>
<path d="M852.75 561.3 L900.5 561.3 L900.5 563.3 L874.5 571.3 L873 569 L870.5 569 L869 571.3 L852.75 563.3 Z" fill="none" stroke="#999" stroke-width="0.8"/>
<path d="M858 563.8 l9 3.6 M886 563.8 l-9 3.6" fill="none" stroke="#999" stroke-width="2.2"/>
<path d="M859 564.3 l7 2.8 M885 564.3 l-7 2.8" fill="none" stroke="#eee" stroke-width="0.8"/>
<rect x="976" y="531.4" width="17.5" height="19.6" fill="none" stroke="#aaa" stroke-width="0.9"/>
<rect x="977.3" y="532.7" width="14.9" height="14.8" fill="none" stroke="#e0e0e0" stroke-width="0.7"/>
<rect x="977" y="547.8" width="15.5" height="2.7" fill="#8a8a8a" stroke="none" stroke-width="0"/>
<line x1="978" y1="549.2" x2="984" y2="549.2" stroke="#ddd" stroke-width="0.7"/>
<rect x="983.25" y="611.25" width="13" height="17.75" fill="none" stroke="#888" stroke-width="0.8"/>
<rect x="996.25" y="611.25" width="17.5" height="17.75" fill="none" stroke="#222" stroke-width="0.9"/>
<path d="M851.25 741.25 L982 741.25 L982 629" fill="none" stroke="#cfcfcf" stroke-width="0.9"/>
<path d="M851.25 744.5 L985 744.5 L985 629" fill="none" stroke="#cfcfcf" stroke-width="0.9"/>
<line x1="983.25" y1="629" x2="1013.75" y2="629" stroke="#888" stroke-width="0.8"/>
<rect x="988" y="645" width="23.25" height="44.5" fill="none" stroke="#cfcfcf" stroke-width="0.9"/>
<rect x="988.5" y="646" width="3.5" height="43" fill="none" stroke="#777" stroke-width="0.7"/>
<line x1="990.2" y1="655" x2="990.2" y2="682" stroke="#555" stroke-width="1.4"/>
<circle cx="1002.5" cy="655" r="5.5" fill="none" stroke="#666" stroke-width="0.8"/>
<circle cx="1002.5" cy="655" r="3.2" fill="#bbb" stroke="#555" stroke-width="0.7"/>
<circle cx="1002.5" cy="655" r="1.5" fill="#777" stroke="none" stroke-width="0"/>
<circle cx="1002.5" cy="679.25" r="5.5" fill="none" stroke="#666" stroke-width="0.8"/>
<circle cx="1002.5" cy="679.25" r="3.2" fill="#bbb" stroke="#555" stroke-width="0.7"/>
<circle cx="1002.5" cy="679.25" r="1.5" fill="#777" stroke="none" stroke-width="0"/>
<rect x="997" y="665.5" width="11" height="3" fill="none" stroke="#aaa" stroke-width="0.7"/>
<rect x="988.75" y="704.5" width="17.5" height="29.25" fill="none" stroke="#444" stroke-width="1.3"/>
<line x1="990.75" y1="707.5" x2="1001" y2="719.12" stroke="#444" stroke-width="1"/>
<rect x="891.25" y="618.75" width="36.25" height="76.25" fill="none" stroke="#cfcfcf" stroke-width="0.9"/>
<rect x="893.5" y="621" width="31.75" height="71.75" fill="none" stroke="#bbb" stroke-width="0.8"/>
<rect x="900" y="633.25" width="17" height="29.25" fill="none" stroke="#444" stroke-width="1.3"/>
<line x1="902" y1="636.25" x2="911.9" y2="647.88" stroke="#444" stroke-width="1"/>
<rect x="886.25" y="747.5" width="32" height="22.5" fill="none" stroke="#cfcfcf" stroke-width="0.9" rx="2"/>
<rect x="888.5" y="749.75" width="27.5" height="18" fill="none" stroke="#aaa" stroke-width="0.8" rx="1.5"/>
<line x1="889" y1="766" x2="895" y2="761" stroke="#999" stroke-width="0.8"/>
<circle cx="900" cy="763.5" r="0.8" fill="none" stroke="#888" stroke-width="0.6"/>
<circle cx="854.5" cy="766.75" r="2.5" fill="none" stroke="#777" stroke-width="0.7"/>
<path d="M1082.5 525.75 L1082.5 632.5 L1134.25 632.5" fill="none" stroke="#cfcfcf" stroke-width="0.9"/>
<path d="M1084 525.75 L1084 631 L1134.25 631" fill="none" stroke="#e2e2e2" stroke-width="0.7"/>
<rect x="1094.25" y="533.75" width="29.5" height="13.25" fill="none" stroke="#999" stroke-width="0.9"/>
<rect x="1095.75" y="535.25" width="26.5" height="10.25" fill="none" stroke="#ddd" stroke-width="0.7"/>
<rect x="1105" y="661.25" width="28" height="30" fill="none" stroke="#cfcfcf" stroke-width="0.9"/>
<circle cx="1118.75" cy="676.25" r="10.5" fill="none" stroke="#aaa" stroke-width="0.8"/>
<rect x="1105" y="701.25" width="28" height="30" fill="none" stroke="#cfcfcf" stroke-width="0.9"/>
<circle cx="1118.75" cy="716.25" r="10.5" fill="none" stroke="#aaa" stroke-width="0.8"/>
<line x1="1027.5" y1="696" x2="1134.25" y2="696" stroke="#cfcfcf" stroke-width="0.9"/>
<line x1="1027.5" y1="700.75" x2="1134.25" y2="700.75" stroke="#cfcfcf" stroke-width="0.9"/>
<g transform="translate(1112.5 750.75) rotate(-90) scale(1)">
<path d="M-12.5 7 Q-13 -19 0 -19 Q13 -19 12.5 7 Z" fill="none" stroke="#777" stroke-width="0.8"/>
<path d="M-9.5 4 Q-10 -15.5 0 -15.5 Q10 -15.5 9.5 4 Z" fill="none" stroke="#aaa" stroke-width="0.7"/>
<rect x="-12" y="6" width="24" height="12" fill="none" stroke="#999" stroke-width="0.8" rx="2"/>
<line x1="-4" y1="5" x2="4" y2="5" stroke="#444" stroke-width="0.9" stroke-dasharray="2 1.3"/>
<line x1="-4" y1="10" x2="4" y2="10" stroke="#444" stroke-width="0.9" stroke-dasharray="2 1.3"/>
<line x1="-4" y1="5" x2="-4" y2="10" stroke="#666" stroke-width="0.6"/>
<line x1="4" y1="5" x2="4" y2="10" stroke="#666" stroke-width="0.6"/>
</g>
<circle cx="1037" cy="735.75" r="6" fill="none" stroke="#999" stroke-width="0.8"/>
<line x1="1027" y1="735.75" x2="1039" y2="735.75" stroke="#888" stroke-width="1.2"/>
<circle cx="1037" cy="735.75" r="1.3" fill="none" stroke="#777" stroke-width="0.6"/>
</svg>
</body></html>
